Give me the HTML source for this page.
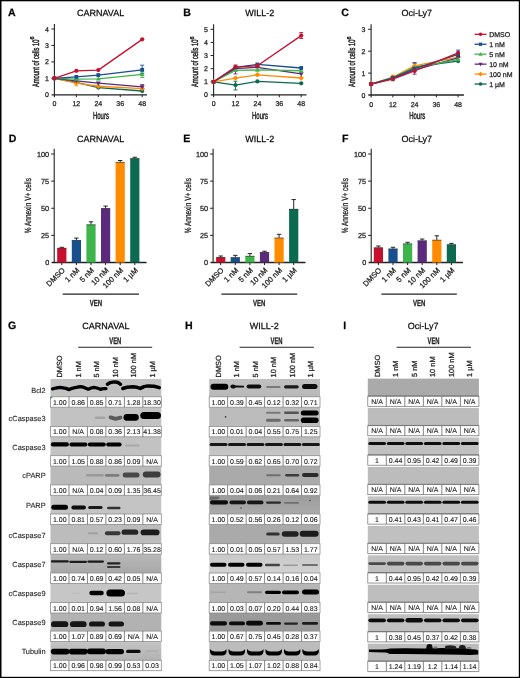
<!DOCTYPE html>
<html><head><meta charset="utf-8"><title>Figure</title>
<style>html,body{margin:0;padding:0;background:#fff;}body{width:520px;height:678px;overflow:hidden;font-family:"Liberation Sans",sans-serif;}svg{display:block;will-change:transform;}text{stroke:#222;stroke-width:0.25px;}</style>
</head><body>
<svg xmlns="http://www.w3.org/2000/svg" width="520" height="678" viewBox="0 0 520 678" font-family="Liberation Sans, sans-serif" text-rendering="geometricPrecision">
<defs><filter id="blur" x="-5%" y="-50%" width="110%" height="200%"><feGaussianBlur stdDeviation="0.72"/></filter></defs>
<rect x="0" y="0" width="520" height="678" fill="#fff"/>
<rect x="0" y="0" width="520" height="1.3" fill="#000"/>
<rect x="0" y="676.8" width="520" height="1.2" fill="#000"/>
<rect x="0" y="0" width="1.5" height="678" fill="#000"/>
<rect x="518.8" y="0" width="1.2" height="678" fill="#000"/>
<text x="8" y="15.8" font-size="10.6" text-anchor="start" font-weight="bold" fill="#000">A</text>
<text x="183.3" y="15.7" font-size="10.6" text-anchor="start" font-weight="bold" fill="#000">B</text>
<text x="341.3" y="15.7" font-size="10.6" text-anchor="start" font-weight="bold" fill="#000">C</text>
<text x="8.7" y="141.7" font-size="10.6" text-anchor="start" font-weight="bold" fill="#000">D</text>
<text x="183.3" y="141.8" font-size="10.6" text-anchor="start" font-weight="bold" fill="#000">E</text>
<text x="342" y="141.8" font-size="10.6" text-anchor="start" font-weight="bold" fill="#000">F</text>
<text x="8" y="329.4" font-size="10.6" text-anchor="start" font-weight="bold" fill="#000">G</text>
<text x="184.9" y="329.3" font-size="10.6" text-anchor="start" font-weight="bold" fill="#000">H</text>
<text x="343.2" y="329.3" font-size="10.6" text-anchor="start" font-weight="bold" fill="#000">I</text>
<text x="100.6" y="16" font-size="9.0" text-anchor="middle">CARNAVAL</text>
<text x="259.7" y="16" font-size="9.0" text-anchor="middle">WILL-2</text>
<text x="416.8" y="16" font-size="9.0" text-anchor="middle">Oci-Ly7</text>
<text x="100.6" y="141.6" font-size="9.0" text-anchor="middle">CARNAVAL</text>
<text x="259.7" y="141.8" font-size="9.0" text-anchor="middle">WILL-2</text>
<text x="416.8" y="141.8" font-size="9.0" text-anchor="middle">Oci-Ly7</text>
<text x="105.9" y="329" font-size="9.0" text-anchor="middle">CARNAVAL</text>
<text x="264.3" y="329" font-size="9.0" text-anchor="middle">WILL-2</text>
<text x="423.2" y="329" font-size="9.0" text-anchor="middle">Oci-Ly7</text>
<line x1="54.4" y1="24" x2="54.4" y2="97.2" stroke="#222" stroke-width="1.1"/>
<line x1="51.6" y1="94.8" x2="147" y2="94.8" stroke="#222" stroke-width="1.3"/>
<text x="48.8" y="97.3" font-size="7" text-anchor="end" fill="#222">0</text>
<line x1="51.4" y1="78.35" x2="54.4" y2="78.35" stroke="#222" stroke-width="1"/>
<text x="48.8" y="80.85" font-size="7" text-anchor="end" fill="#222">1</text>
<line x1="51.4" y1="61.9" x2="54.4" y2="61.9" stroke="#222" stroke-width="1"/>
<text x="48.8" y="64.4" font-size="7" text-anchor="end" fill="#222">2</text>
<line x1="51.4" y1="45.45" x2="54.4" y2="45.45" stroke="#222" stroke-width="1"/>
<text x="48.8" y="47.95" font-size="7" text-anchor="end" fill="#222">3</text>
<line x1="51.4" y1="29" x2="54.4" y2="29" stroke="#222" stroke-width="1"/>
<text x="48.8" y="31.5" font-size="7" text-anchor="end" fill="#222">4</text>
<text x="54.4" y="106.3" font-size="7" text-anchor="middle" fill="#222">0</text>
<line x1="76.35" y1="94.8" x2="76.35" y2="97.2" stroke="#222" stroke-width="1"/>
<text x="76.35" y="106.3" font-size="7" text-anchor="middle" fill="#222">12</text>
<line x1="98.3" y1="94.8" x2="98.3" y2="97.2" stroke="#222" stroke-width="1"/>
<text x="98.3" y="106.3" font-size="7" text-anchor="middle" fill="#222">24</text>
<line x1="120.25" y1="94.8" x2="120.25" y2="97.2" stroke="#222" stroke-width="1"/>
<text x="120.25" y="106.3" font-size="7" text-anchor="middle" fill="#222">36</text>
<line x1="142.2" y1="94.8" x2="142.2" y2="97.2" stroke="#222" stroke-width="1"/>
<text x="142.2" y="106.3" font-size="7" text-anchor="middle" fill="#222">48</text>
<text x="100.9" y="118.8" font-size="10.2" text-anchor="middle" fill="#222" textLength="16" lengthAdjust="spacingAndGlyphs" style="stroke-width:0.45px">Hours</text>
<text transform="translate(38.6 87.1) rotate(-90)" font-size="9.4" text-anchor="start" fill="#1a1a1a" style="stroke-width:0.42px;stroke:#1a1a1a"><tspan textLength="47.6" lengthAdjust="spacingAndGlyphs">Amount of cells 10</tspan><tspan dy="-4.2" font-size="5.6">6</tspan></text>
<polyline points="54.4,78.35 76.35,82.3 98.3,87.56 142.2,91.02" fill="none" stroke="#0b6a50" stroke-width="1.3" stroke-linejoin="round"/>
<polyline points="54.4,78.35 76.35,83.12 98.3,86.25 142.2,88.55" fill="none" stroke="#ff8c00" stroke-width="1.3" stroke-linejoin="round"/>
<polyline points="54.4,78.35 76.35,80.82 98.3,83.12 142.2,86.9" fill="none" stroke="#5b2a7c" stroke-width="1.3" stroke-linejoin="round"/>
<polyline points="54.4,78.35 76.35,79.17 98.3,78.84 142.2,74.4" fill="none" stroke="#3db54a" stroke-width="1.3" stroke-linejoin="round"/>
<polyline points="54.4,78.35 76.35,76.87 98.3,75.06 142.2,69.8" fill="none" stroke="#17508c" stroke-width="1.3" stroke-linejoin="round"/>
<polyline points="54.4,78.35 76.35,70.78 98.3,70.12 142.2,39.36" fill="none" stroke="#c8102e" stroke-width="1.3" stroke-linejoin="round"/>
<line x1="142.2" y1="73.41" x2="142.2" y2="65.19" stroke="#17508c" stroke-width="0.9"/>
<line x1="140.2" y1="73.41" x2="144.2" y2="73.41" stroke="#17508c" stroke-width="0.9"/>
<line x1="140.2" y1="65.19" x2="144.2" y2="65.19" stroke="#17508c" stroke-width="0.9"/>
<line x1="142.2" y1="77.53" x2="142.2" y2="71.77" stroke="#3db54a" stroke-width="0.9"/>
<line x1="140.2" y1="77.53" x2="144.2" y2="77.53" stroke="#3db54a" stroke-width="0.9"/>
<line x1="140.2" y1="71.77" x2="144.2" y2="71.77" stroke="#3db54a" stroke-width="0.9"/>
<line x1="142.2" y1="89.04" x2="142.2" y2="84.6" stroke="#5b2a7c" stroke-width="0.9"/>
<line x1="140.2" y1="89.04" x2="144.2" y2="89.04" stroke="#5b2a7c" stroke-width="0.9"/>
<line x1="140.2" y1="84.6" x2="144.2" y2="84.6" stroke="#5b2a7c" stroke-width="0.9"/>
<line x1="76.35" y1="85.75" x2="76.35" y2="80.82" stroke="#ff8c00" stroke-width="0.9"/>
<line x1="74.35" y1="85.75" x2="78.35" y2="85.75" stroke="#ff8c00" stroke-width="0.9"/>
<line x1="74.35" y1="80.82" x2="78.35" y2="80.82" stroke="#ff8c00" stroke-width="0.9"/>
<circle cx="54.4" cy="78.35" r="2.1" fill="#0b6a50"/>
<circle cx="76.35" cy="82.3" r="2.1" fill="#0b6a50"/>
<circle cx="98.3" cy="87.56" r="2.1" fill="#0b6a50"/>
<circle cx="142.2" cy="91.02" r="2.1" fill="#0b6a50"/>
<path d="M54.4 75.62L57.13 78.35L54.4 81.08L51.67 78.35Z" fill="#ff8c00"/>
<path d="M76.35 80.39L79.08 83.12L76.35 85.85L73.62 83.12Z" fill="#ff8c00"/>
<path d="M98.3 83.52L101.03 86.25L98.3 88.98L95.57 86.25Z" fill="#ff8c00"/>
<path d="M142.2 85.82L144.93 88.55L142.2 91.28L139.47 88.55Z" fill="#ff8c00"/>
<path d="M54.4 80.87L56.81 76.67L51.98 76.67Z" fill="#5b2a7c"/>
<path d="M76.35 83.34L78.77 79.14L73.93 79.14Z" fill="#5b2a7c"/>
<path d="M98.3 85.64L100.72 81.44L95.88 81.44Z" fill="#5b2a7c"/>
<path d="M142.2 89.42L144.61 85.22L139.78 85.22Z" fill="#5b2a7c"/>
<path d="M54.4 75.83L56.81 80.03L51.98 80.03Z" fill="#3db54a"/>
<path d="M76.35 76.65L78.77 80.85L73.93 80.85Z" fill="#3db54a"/>
<path d="M98.3 76.32L100.72 80.52L95.88 80.52Z" fill="#3db54a"/>
<path d="M142.2 71.88L144.61 76.08L139.78 76.08Z" fill="#3db54a"/>
<rect x="52.51" y="76.46" width="3.78" height="3.78" fill="#17508c"/>
<rect x="74.46" y="74.98" width="3.78" height="3.78" fill="#17508c"/>
<rect x="96.41" y="73.17" width="3.78" height="3.78" fill="#17508c"/>
<rect x="140.31" y="67.91" width="3.78" height="3.78" fill="#17508c"/>
<circle cx="54.4" cy="78.35" r="2.1" fill="#c8102e"/>
<circle cx="76.35" cy="70.78" r="2.1" fill="#c8102e"/>
<circle cx="98.3" cy="70.12" r="2.1" fill="#c8102e"/>
<circle cx="142.2" cy="39.36" r="2.1" fill="#c8102e"/>
<line x1="213.6" y1="24.2" x2="213.6" y2="97.3" stroke="#222" stroke-width="1.1"/>
<line x1="210.8" y1="94.9" x2="306.5" y2="94.9" stroke="#222" stroke-width="1.3"/>
<text x="208" y="97.4" font-size="7" text-anchor="end" fill="#222">0</text>
<line x1="210.6" y1="81.78" x2="213.6" y2="81.78" stroke="#222" stroke-width="1"/>
<text x="208" y="84.28" font-size="7" text-anchor="end" fill="#222">1</text>
<line x1="210.6" y1="68.66" x2="213.6" y2="68.66" stroke="#222" stroke-width="1"/>
<text x="208" y="71.16" font-size="7" text-anchor="end" fill="#222">2</text>
<line x1="210.6" y1="55.54" x2="213.6" y2="55.54" stroke="#222" stroke-width="1"/>
<text x="208" y="58.04" font-size="7" text-anchor="end" fill="#222">3</text>
<line x1="210.6" y1="42.42" x2="213.6" y2="42.42" stroke="#222" stroke-width="1"/>
<text x="208" y="44.92" font-size="7" text-anchor="end" fill="#222">4</text>
<line x1="210.6" y1="29.3" x2="213.6" y2="29.3" stroke="#222" stroke-width="1"/>
<text x="208" y="31.8" font-size="7" text-anchor="end" fill="#222">5</text>
<text x="213.6" y="106.4" font-size="7" text-anchor="middle" fill="#222">0</text>
<line x1="235.5" y1="94.9" x2="235.5" y2="97.3" stroke="#222" stroke-width="1"/>
<text x="235.5" y="106.4" font-size="7" text-anchor="middle" fill="#222">12</text>
<line x1="257.4" y1="94.9" x2="257.4" y2="97.3" stroke="#222" stroke-width="1"/>
<text x="257.4" y="106.4" font-size="7" text-anchor="middle" fill="#222">24</text>
<line x1="279.3" y1="94.9" x2="279.3" y2="97.3" stroke="#222" stroke-width="1"/>
<text x="279.3" y="106.4" font-size="7" text-anchor="middle" fill="#222">36</text>
<line x1="301.2" y1="94.9" x2="301.2" y2="97.3" stroke="#222" stroke-width="1"/>
<text x="301.2" y="106.4" font-size="7" text-anchor="middle" fill="#222">48</text>
<text x="260" y="118.9" font-size="10.2" text-anchor="middle" fill="#222" textLength="16" lengthAdjust="spacingAndGlyphs" style="stroke-width:0.45px">Hours</text>
<text transform="translate(198 87.1) rotate(-90)" font-size="9.4" text-anchor="start" fill="#1a1a1a" style="stroke-width:0.42px;stroke:#1a1a1a"><tspan textLength="47.6" lengthAdjust="spacingAndGlyphs">Amount of cells 10</tspan><tspan dy="-4.2" font-size="5.6">6</tspan></text>
<polyline points="213.6,81.78 235.5,85.06 257.4,81.39 301.2,83.35" fill="none" stroke="#0b6a50" stroke-width="1.3" stroke-linejoin="round"/>
<polyline points="213.6,81.78 235.5,78.11 257.4,74.83 301.2,77.98" fill="none" stroke="#ff8c00" stroke-width="1.3" stroke-linejoin="round"/>
<polyline points="213.6,81.78 235.5,68.66 257.4,67.35 301.2,73.91" fill="none" stroke="#5b2a7c" stroke-width="1.3" stroke-linejoin="round"/>
<polyline points="213.6,81.78 235.5,70.37 257.4,69.97 301.2,70.76" fill="none" stroke="#3db54a" stroke-width="1.3" stroke-linejoin="round"/>
<polyline points="213.6,81.78 235.5,67.35 257.4,64.46 301.2,68" fill="none" stroke="#17508c" stroke-width="1.3" stroke-linejoin="round"/>
<polyline points="213.6,81.78 235.5,67.09 257.4,65.77 301.2,35.6" fill="none" stroke="#c8102e" stroke-width="1.3" stroke-linejoin="round"/>
<line x1="301.2" y1="38.48" x2="301.2" y2="32.58" stroke="#c8102e" stroke-width="0.9"/>
<line x1="299.2" y1="38.48" x2="303.2" y2="38.48" stroke="#c8102e" stroke-width="0.9"/>
<line x1="299.2" y1="32.58" x2="303.2" y2="32.58" stroke="#c8102e" stroke-width="0.9"/>
<line x1="235.5" y1="68.66" x2="235.5" y2="64.99" stroke="#c8102e" stroke-width="0.9"/>
<line x1="233.5" y1="68.66" x2="237.5" y2="68.66" stroke="#c8102e" stroke-width="0.9"/>
<line x1="233.5" y1="64.99" x2="237.5" y2="64.99" stroke="#c8102e" stroke-width="0.9"/>
<line x1="235.5" y1="73.91" x2="235.5" y2="67.35" stroke="#5b2a7c" stroke-width="0.9"/>
<line x1="233.5" y1="73.91" x2="237.5" y2="73.91" stroke="#5b2a7c" stroke-width="0.9"/>
<line x1="233.5" y1="67.35" x2="237.5" y2="67.35" stroke="#5b2a7c" stroke-width="0.9"/>
<line x1="235.5" y1="89.91" x2="235.5" y2="81.26" stroke="#0b6a50" stroke-width="0.9"/>
<line x1="233.5" y1="89.91" x2="237.5" y2="89.91" stroke="#0b6a50" stroke-width="0.9"/>
<line x1="233.5" y1="81.26" x2="237.5" y2="81.26" stroke="#0b6a50" stroke-width="0.9"/>
<line x1="257.4" y1="67.35" x2="257.4" y2="64.07" stroke="#c8102e" stroke-width="0.9"/>
<line x1="255.4" y1="67.35" x2="259.4" y2="67.35" stroke="#c8102e" stroke-width="0.9"/>
<line x1="255.4" y1="64.07" x2="259.4" y2="64.07" stroke="#c8102e" stroke-width="0.9"/>
<circle cx="213.6" cy="81.78" r="2.1" fill="#0b6a50"/>
<circle cx="235.5" cy="85.06" r="2.1" fill="#0b6a50"/>
<circle cx="257.4" cy="81.39" r="2.1" fill="#0b6a50"/>
<circle cx="301.2" cy="83.35" r="2.1" fill="#0b6a50"/>
<path d="M213.6 79.05L216.33 81.78L213.6 84.51L210.87 81.78Z" fill="#ff8c00"/>
<path d="M235.5 75.38L238.23 78.11L235.5 80.84L232.77 78.11Z" fill="#ff8c00"/>
<path d="M257.4 72.1L260.13 74.83L257.4 77.56L254.67 74.83Z" fill="#ff8c00"/>
<path d="M301.2 75.25L303.93 77.98L301.2 80.71L298.47 77.98Z" fill="#ff8c00"/>
<path d="M213.6 84.3L216.01 80.1L211.19 80.1Z" fill="#5b2a7c"/>
<path d="M235.5 71.18L237.91 66.98L233.09 66.98Z" fill="#5b2a7c"/>
<path d="M257.4 69.87L259.81 65.67L254.98 65.67Z" fill="#5b2a7c"/>
<path d="M301.2 76.43L303.62 72.23L298.78 72.23Z" fill="#5b2a7c"/>
<path d="M213.6 79.26L216.01 83.46L211.19 83.46Z" fill="#3db54a"/>
<path d="M235.5 67.85L237.91 72.05L233.09 72.05Z" fill="#3db54a"/>
<path d="M257.4 67.45L259.81 71.65L254.98 71.65Z" fill="#3db54a"/>
<path d="M301.2 68.24L303.62 72.44L298.78 72.44Z" fill="#3db54a"/>
<rect x="211.71" y="79.89" width="3.78" height="3.78" fill="#17508c"/>
<rect x="233.61" y="65.46" width="3.78" height="3.78" fill="#17508c"/>
<rect x="255.51" y="62.57" width="3.78" height="3.78" fill="#17508c"/>
<rect x="299.31" y="66.11" width="3.78" height="3.78" fill="#17508c"/>
<circle cx="213.6" cy="81.78" r="2.1" fill="#c8102e"/>
<circle cx="235.5" cy="67.09" r="2.1" fill="#c8102e"/>
<circle cx="257.4" cy="65.77" r="2.1" fill="#c8102e"/>
<circle cx="301.2" cy="35.6" r="2.1" fill="#c8102e"/>
<line x1="371.1" y1="24.2" x2="371.1" y2="97.4" stroke="#222" stroke-width="1.1"/>
<line x1="368.3" y1="95" x2="463.9" y2="95" stroke="#222" stroke-width="1.3"/>
<text x="365.5" y="97.5" font-size="7" text-anchor="end" fill="#222">0</text>
<line x1="368.1" y1="73.1" x2="371.1" y2="73.1" stroke="#222" stroke-width="1"/>
<text x="365.5" y="75.6" font-size="7" text-anchor="end" fill="#222">1</text>
<line x1="368.1" y1="51.2" x2="371.1" y2="51.2" stroke="#222" stroke-width="1"/>
<text x="365.5" y="53.7" font-size="7" text-anchor="end" fill="#222">2</text>
<line x1="368.1" y1="29.3" x2="371.1" y2="29.3" stroke="#222" stroke-width="1"/>
<text x="365.5" y="31.8" font-size="7" text-anchor="end" fill="#222">3</text>
<text x="371.1" y="106.5" font-size="7" text-anchor="middle" fill="#222">0</text>
<line x1="392.85" y1="95" x2="392.85" y2="97.4" stroke="#222" stroke-width="1"/>
<text x="392.85" y="106.5" font-size="7" text-anchor="middle" fill="#222">12</text>
<line x1="414.6" y1="95" x2="414.6" y2="97.4" stroke="#222" stroke-width="1"/>
<text x="414.6" y="106.5" font-size="7" text-anchor="middle" fill="#222">24</text>
<line x1="436.35" y1="95" x2="436.35" y2="97.4" stroke="#222" stroke-width="1"/>
<text x="436.35" y="106.5" font-size="7" text-anchor="middle" fill="#222">36</text>
<line x1="458.1" y1="95" x2="458.1" y2="97.4" stroke="#222" stroke-width="1"/>
<text x="458.1" y="106.5" font-size="7" text-anchor="middle" fill="#222">48</text>
<text x="417.2" y="119" font-size="10.2" text-anchor="middle" fill="#222" textLength="16" lengthAdjust="spacingAndGlyphs" style="stroke-width:0.45px">Hours</text>
<text transform="translate(355 87.1) rotate(-90)" font-size="9.4" text-anchor="start" fill="#1a1a1a" style="stroke-width:0.42px;stroke:#1a1a1a"><tspan textLength="47.6" lengthAdjust="spacingAndGlyphs">Amount of cells 10</tspan><tspan dy="-4.2" font-size="5.6">6</tspan></text>
<polyline points="371.1,84.05 392.85,77.92 414.6,66.97 458.1,61.05" fill="none" stroke="#0b6a50" stroke-width="1.3" stroke-linejoin="round"/>
<polyline points="371.1,84.05 392.85,77.04 414.6,65.87 458.1,57.11" fill="none" stroke="#ff8c00" stroke-width="1.3" stroke-linejoin="round"/>
<polyline points="371.1,84.05 392.85,78.36 414.6,69.81 458.1,57.77" fill="none" stroke="#5b2a7c" stroke-width="1.3" stroke-linejoin="round"/>
<polyline points="371.1,84.05 392.85,77.48 414.6,67.62 458.1,59.52" fill="none" stroke="#3db54a" stroke-width="1.3" stroke-linejoin="round"/>
<polyline points="371.1,84.05 392.85,77.92 414.6,68.72 458.1,54.48" fill="none" stroke="#17508c" stroke-width="1.3" stroke-linejoin="round"/>
<polyline points="371.1,84.05 392.85,79.23 414.6,70.91 458.1,52.95" fill="none" stroke="#c8102e" stroke-width="1.3" stroke-linejoin="round"/>
<line x1="458.1" y1="56.02" x2="458.1" y2="50.11" stroke="#17508c" stroke-width="0.9"/>
<line x1="456.1" y1="56.02" x2="460.1" y2="56.02" stroke="#17508c" stroke-width="0.9"/>
<line x1="456.1" y1="50.11" x2="460.1" y2="50.11" stroke="#17508c" stroke-width="0.9"/>
<line x1="414.6" y1="74.2" x2="414.6" y2="63.25" stroke="#5b2a7c" stroke-width="0.9"/>
<line x1="412.6" y1="74.2" x2="416.6" y2="74.2" stroke="#5b2a7c" stroke-width="0.9"/>
<line x1="412.6" y1="63.25" x2="416.6" y2="63.25" stroke="#5b2a7c" stroke-width="0.9"/>
<line x1="414.6" y1="70.91" x2="414.6" y2="62.59" stroke="#17508c" stroke-width="0.9"/>
<line x1="412.6" y1="70.91" x2="416.6" y2="70.91" stroke="#17508c" stroke-width="0.9"/>
<line x1="412.6" y1="62.59" x2="416.6" y2="62.59" stroke="#17508c" stroke-width="0.9"/>
<line x1="392.85" y1="80.77" x2="392.85" y2="76.39" stroke="#3db54a" stroke-width="0.9"/>
<line x1="390.85" y1="80.77" x2="394.85" y2="80.77" stroke="#3db54a" stroke-width="0.9"/>
<line x1="390.85" y1="76.39" x2="394.85" y2="76.39" stroke="#3db54a" stroke-width="0.9"/>
<line x1="392.85" y1="78.58" x2="392.85" y2="75.29" stroke="#ff8c00" stroke-width="0.9"/>
<line x1="390.85" y1="78.58" x2="394.85" y2="78.58" stroke="#ff8c00" stroke-width="0.9"/>
<line x1="390.85" y1="75.29" x2="394.85" y2="75.29" stroke="#ff8c00" stroke-width="0.9"/>
<circle cx="371.1" cy="84.05" r="2.1" fill="#0b6a50"/>
<circle cx="392.85" cy="77.92" r="2.1" fill="#0b6a50"/>
<circle cx="414.6" cy="66.97" r="2.1" fill="#0b6a50"/>
<circle cx="458.1" cy="61.05" r="2.1" fill="#0b6a50"/>
<path d="M371.1 81.32L373.83 84.05L371.1 86.78L368.37 84.05Z" fill="#ff8c00"/>
<path d="M392.85 74.31L395.58 77.04L392.85 79.77L390.12 77.04Z" fill="#ff8c00"/>
<path d="M414.6 63.14L417.33 65.87L414.6 68.6L411.87 65.87Z" fill="#ff8c00"/>
<path d="M458.1 54.38L460.83 57.11L458.1 59.84L455.37 57.11Z" fill="#ff8c00"/>
<path d="M371.1 86.57L373.52 82.37L368.69 82.37Z" fill="#5b2a7c"/>
<path d="M392.85 80.88L395.27 76.68L390.44 76.68Z" fill="#5b2a7c"/>
<path d="M414.6 72.33L417.02 68.13L412.19 68.13Z" fill="#5b2a7c"/>
<path d="M458.1 60.29L460.52 56.09L455.69 56.09Z" fill="#5b2a7c"/>
<path d="M371.1 81.53L373.52 85.73L368.69 85.73Z" fill="#3db54a"/>
<path d="M392.85 74.96L395.27 79.16L390.44 79.16Z" fill="#3db54a"/>
<path d="M414.6 65.11L417.02 69.31L412.19 69.31Z" fill="#3db54a"/>
<path d="M458.1 57L460.52 61.2L455.69 61.2Z" fill="#3db54a"/>
<rect x="369.21" y="82.16" width="3.78" height="3.78" fill="#17508c"/>
<rect x="390.96" y="76.03" width="3.78" height="3.78" fill="#17508c"/>
<rect x="412.71" y="66.83" width="3.78" height="3.78" fill="#17508c"/>
<rect x="456.21" y="52.59" width="3.78" height="3.78" fill="#17508c"/>
<circle cx="371.1" cy="84.05" r="2.1" fill="#c8102e"/>
<circle cx="392.85" cy="79.23" r="2.1" fill="#c8102e"/>
<circle cx="414.6" cy="70.91" r="2.1" fill="#c8102e"/>
<circle cx="458.1" cy="52.95" r="2.1" fill="#c8102e"/>
<line x1="474.6" y1="34.3" x2="486.5" y2="34.3" stroke="#c8102e" stroke-width="1.3"/>
<circle cx="480.55" cy="34.3" r="1.8" fill="#c8102e"/>
<text x="489.2" y="36.8" font-size="7" text-anchor="start" fill="#222">DMSO</text>
<line x1="474.6" y1="44.25" x2="486.5" y2="44.25" stroke="#17508c" stroke-width="1.3"/>
<rect x="478.93" y="42.63" width="3.24" height="3.24" fill="#17508c"/>
<text x="489.2" y="46.75" font-size="7" text-anchor="start" fill="#222">1 nM</text>
<line x1="474.6" y1="54.2" x2="486.5" y2="54.2" stroke="#3db54a" stroke-width="1.3"/>
<path d="M480.55 52.04L482.62 55.64L478.48 55.64Z" fill="#3db54a"/>
<text x="489.2" y="56.7" font-size="7" text-anchor="start" fill="#222">5 nM</text>
<line x1="474.6" y1="64.15" x2="486.5" y2="64.15" stroke="#5b2a7c" stroke-width="1.3"/>
<path d="M480.55 66.31L482.62 62.71L478.48 62.71Z" fill="#5b2a7c"/>
<text x="489.2" y="66.65" font-size="7" text-anchor="start" fill="#222">10 nM</text>
<line x1="474.6" y1="74.1" x2="486.5" y2="74.1" stroke="#ff8c00" stroke-width="1.3"/>
<path d="M480.55 71.76L482.89 74.1L480.55 76.44L478.21 74.1Z" fill="#ff8c00"/>
<text x="489.2" y="76.6" font-size="7" text-anchor="start" fill="#222">100 nM</text>
<line x1="474.6" y1="84.05" x2="486.5" y2="84.05" stroke="#0b6a50" stroke-width="1.3"/>
<circle cx="480.55" cy="84.05" r="1.8" fill="#0b6a50"/>
<text x="489.2" y="86.55" font-size="7" text-anchor="start" fill="#222">1 µM</text>
<line x1="54.2" y1="148.8" x2="54.2" y2="263.1" stroke="#222" stroke-width="1.1"/>
<line x1="51.6" y1="262.5" x2="146.5" y2="262.5" stroke="#222" stroke-width="1.3"/>
<text x="49.2" y="265.1" font-size="7.3" text-anchor="end" fill="#222">0</text>
<line x1="51.2" y1="235.38" x2="54.2" y2="235.38" stroke="#222" stroke-width="1"/>
<text x="49.2" y="237.97" font-size="7.3" text-anchor="end" fill="#222">25</text>
<line x1="51.2" y1="208.25" x2="54.2" y2="208.25" stroke="#222" stroke-width="1"/>
<text x="49.2" y="210.85" font-size="7.3" text-anchor="end" fill="#222">50</text>
<line x1="51.2" y1="181.12" x2="54.2" y2="181.12" stroke="#222" stroke-width="1"/>
<text x="49.2" y="183.72" font-size="7.3" text-anchor="end" fill="#222">75</text>
<line x1="51.2" y1="154" x2="54.2" y2="154" stroke="#222" stroke-width="1"/>
<text x="49.2" y="156.6" font-size="7.3" text-anchor="end" fill="#222">100</text>
<rect x="57.2" y="247.96" width="9.2" height="14.54" fill="#c8102e"/>
<line x1="61.8" y1="247.96" x2="61.8" y2="247.31" stroke="#111" stroke-width="0.9"/>
<line x1="59.6" y1="247.31" x2="64" y2="247.31" stroke="#111" stroke-width="0.9"/>
<line x1="57.2" y1="248.26" x2="66.4" y2="248.26" stroke="#333" stroke-width="0.6"/>
<line x1="61.8" y1="262.5" x2="61.8" y2="265.1" stroke="#222" stroke-width="1"/>
<text x="65.4" y="270.8" font-size="7.6" text-anchor="end" fill="#222" transform="rotate(-45 65.4 270.8)">DMSO</text>
<rect x="71.8" y="240.15" width="9.2" height="22.35" fill="#17508c"/>
<line x1="76.4" y1="240.15" x2="76.4" y2="238.09" stroke="#111" stroke-width="0.9"/>
<line x1="74.2" y1="238.09" x2="78.6" y2="238.09" stroke="#111" stroke-width="0.9"/>
<line x1="71.8" y1="240.45" x2="81" y2="240.45" stroke="#333" stroke-width="0.6"/>
<line x1="76.4" y1="262.5" x2="76.4" y2="265.1" stroke="#222" stroke-width="1"/>
<text x="80" y="270.8" font-size="7.6" text-anchor="end" fill="#222" transform="rotate(-45 80 270.8)">1 nM</text>
<rect x="86.4" y="224.53" width="9.2" height="37.97" fill="#3db54a"/>
<line x1="91" y1="224.53" x2="91" y2="221.81" stroke="#111" stroke-width="0.9"/>
<line x1="88.8" y1="221.81" x2="93.2" y2="221.81" stroke="#111" stroke-width="0.9"/>
<line x1="86.4" y1="224.83" x2="95.6" y2="224.83" stroke="#333" stroke-width="0.6"/>
<line x1="91" y1="262.5" x2="91" y2="265.1" stroke="#222" stroke-width="1"/>
<text x="94.6" y="270.8" font-size="7.6" text-anchor="end" fill="#222" transform="rotate(-45 94.6 270.8)">5 nM</text>
<rect x="101" y="208.25" width="9.2" height="54.25" fill="#5b2a7c"/>
<line x1="105.6" y1="208.25" x2="105.6" y2="206.08" stroke="#111" stroke-width="0.9"/>
<line x1="103.4" y1="206.08" x2="107.8" y2="206.08" stroke="#111" stroke-width="0.9"/>
<line x1="101" y1="208.55" x2="110.2" y2="208.55" stroke="#333" stroke-width="0.6"/>
<line x1="105.6" y1="262.5" x2="105.6" y2="265.1" stroke="#222" stroke-width="1"/>
<text x="109.2" y="270.8" font-size="7.6" text-anchor="end" fill="#222" transform="rotate(-45 109.2 270.8)">10 nM</text>
<rect x="115.6" y="162.14" width="9.2" height="100.36" fill="#ff8c00"/>
<line x1="120.2" y1="162.14" x2="120.2" y2="160.51" stroke="#111" stroke-width="0.9"/>
<line x1="118" y1="160.51" x2="122.4" y2="160.51" stroke="#111" stroke-width="0.9"/>
<line x1="115.6" y1="162.44" x2="124.8" y2="162.44" stroke="#333" stroke-width="0.6"/>
<line x1="120.2" y1="262.5" x2="120.2" y2="265.1" stroke="#222" stroke-width="1"/>
<text x="123.8" y="270.8" font-size="7.6" text-anchor="end" fill="#222" transform="rotate(-45 123.8 270.8)">100 nM</text>
<rect x="130.2" y="158.34" width="9.2" height="104.16" fill="#0b6a50"/>
<line x1="134.8" y1="158.34" x2="134.8" y2="157.25" stroke="#111" stroke-width="0.9"/>
<line x1="132.6" y1="157.25" x2="137" y2="157.25" stroke="#111" stroke-width="0.9"/>
<line x1="130.2" y1="158.64" x2="139.4" y2="158.64" stroke="#333" stroke-width="0.6"/>
<line x1="134.8" y1="262.5" x2="134.8" y2="265.1" stroke="#222" stroke-width="1"/>
<text x="138.4" y="270.8" font-size="7.6" text-anchor="end" fill="#222" transform="rotate(-45 138.4 270.8)">1 µM</text>
<text transform="translate(30.9 205.6) rotate(-90)" font-size="9.0" text-anchor="middle" fill="#222" style="stroke-width:0.28px" textLength="55.2" lengthAdjust="spacingAndGlyphs">% Annexin V+ cells</text>
<line x1="62.7" y1="294.1" x2="139" y2="294.1" stroke="#222" stroke-width="1.1"/>
<text x="95.9" y="305.6" font-size="8.8" text-anchor="middle" font-weight="bold" fill="#222" textLength="12.4" lengthAdjust="spacingAndGlyphs">VEN</text>
<line x1="213.1" y1="148.8" x2="213.1" y2="263.1" stroke="#222" stroke-width="1.1"/>
<line x1="210.5" y1="262.5" x2="305.5" y2="262.5" stroke="#222" stroke-width="1.3"/>
<text x="208.1" y="265.1" font-size="7.3" text-anchor="end" fill="#222">0</text>
<line x1="210.1" y1="235.38" x2="213.1" y2="235.38" stroke="#222" stroke-width="1"/>
<text x="208.1" y="237.97" font-size="7.3" text-anchor="end" fill="#222">25</text>
<line x1="210.1" y1="208.25" x2="213.1" y2="208.25" stroke="#222" stroke-width="1"/>
<text x="208.1" y="210.85" font-size="7.3" text-anchor="end" fill="#222">50</text>
<line x1="210.1" y1="181.12" x2="213.1" y2="181.12" stroke="#222" stroke-width="1"/>
<text x="208.1" y="183.72" font-size="7.3" text-anchor="end" fill="#222">75</text>
<line x1="210.1" y1="154" x2="213.1" y2="154" stroke="#222" stroke-width="1"/>
<text x="208.1" y="156.6" font-size="7.3" text-anchor="end" fill="#222">100</text>
<rect x="216.1" y="257.18" width="9.2" height="5.32" fill="#c8102e"/>
<line x1="220.7" y1="257.18" x2="220.7" y2="255.99" stroke="#111" stroke-width="0.9"/>
<line x1="218.5" y1="255.99" x2="222.9" y2="255.99" stroke="#111" stroke-width="0.9"/>
<line x1="216.1" y1="257.48" x2="225.3" y2="257.48" stroke="#333" stroke-width="0.6"/>
<line x1="220.7" y1="262.5" x2="220.7" y2="265.1" stroke="#222" stroke-width="1"/>
<text x="224.3" y="270.8" font-size="7.6" text-anchor="end" fill="#222" transform="rotate(-45 224.3 270.8)">DMSO</text>
<rect x="230.7" y="257.4" width="9.2" height="5.1" fill="#17508c"/>
<line x1="235.3" y1="257.4" x2="235.3" y2="255.34" stroke="#111" stroke-width="0.9"/>
<line x1="233.1" y1="255.34" x2="237.5" y2="255.34" stroke="#111" stroke-width="0.9"/>
<line x1="230.7" y1="257.7" x2="239.9" y2="257.7" stroke="#333" stroke-width="0.6"/>
<line x1="235.3" y1="262.5" x2="235.3" y2="265.1" stroke="#222" stroke-width="1"/>
<text x="238.9" y="270.8" font-size="7.6" text-anchor="end" fill="#222" transform="rotate(-45 238.9 270.8)">1 nM</text>
<rect x="245.3" y="255.99" width="9.2" height="6.51" fill="#3db54a"/>
<line x1="249.9" y1="255.99" x2="249.9" y2="253.6" stroke="#111" stroke-width="0.9"/>
<line x1="247.7" y1="253.6" x2="252.1" y2="253.6" stroke="#111" stroke-width="0.9"/>
<line x1="245.3" y1="256.29" x2="254.5" y2="256.29" stroke="#333" stroke-width="0.6"/>
<line x1="249.9" y1="262.5" x2="249.9" y2="265.1" stroke="#222" stroke-width="1"/>
<text x="253.5" y="270.8" font-size="7.6" text-anchor="end" fill="#222" transform="rotate(-45 253.5 270.8)">5 nM</text>
<rect x="259.9" y="252.19" width="9.2" height="10.31" fill="#5b2a7c"/>
<line x1="264.5" y1="252.19" x2="264.5" y2="251.22" stroke="#111" stroke-width="0.9"/>
<line x1="262.3" y1="251.22" x2="266.7" y2="251.22" stroke="#111" stroke-width="0.9"/>
<line x1="259.9" y1="252.49" x2="269.1" y2="252.49" stroke="#333" stroke-width="0.6"/>
<line x1="264.5" y1="262.5" x2="264.5" y2="265.1" stroke="#222" stroke-width="1"/>
<text x="268.1" y="270.8" font-size="7.6" text-anchor="end" fill="#222" transform="rotate(-45 268.1 270.8)">10 nM</text>
<rect x="274.5" y="237.76" width="9.2" height="24.74" fill="#ff8c00"/>
<line x1="279.1" y1="237.76" x2="279.1" y2="234.29" stroke="#111" stroke-width="0.9"/>
<line x1="276.9" y1="234.29" x2="281.3" y2="234.29" stroke="#111" stroke-width="0.9"/>
<line x1="274.5" y1="238.06" x2="283.7" y2="238.06" stroke="#333" stroke-width="0.6"/>
<line x1="279.1" y1="262.5" x2="279.1" y2="265.1" stroke="#222" stroke-width="1"/>
<text x="282.7" y="270.8" font-size="7.6" text-anchor="end" fill="#222" transform="rotate(-45 282.7 270.8)">100 nM</text>
<rect x="289.1" y="209.01" width="9.2" height="53.49" fill="#0b6a50"/>
<line x1="293.7" y1="209.01" x2="293.7" y2="199.57" stroke="#111" stroke-width="0.9"/>
<line x1="291.5" y1="199.57" x2="295.9" y2="199.57" stroke="#111" stroke-width="0.9"/>
<line x1="289.1" y1="209.31" x2="298.3" y2="209.31" stroke="#333" stroke-width="0.6"/>
<line x1="293.7" y1="262.5" x2="293.7" y2="265.1" stroke="#222" stroke-width="1"/>
<text x="297.3" y="270.8" font-size="7.6" text-anchor="end" fill="#222" transform="rotate(-45 297.3 270.8)">1 µM</text>
<text transform="translate(190.5 205.6) rotate(-90)" font-size="9.0" text-anchor="middle" fill="#222" style="stroke-width:0.28px" textLength="55.2" lengthAdjust="spacingAndGlyphs">% Annexin V+ cells</text>
<line x1="221.4" y1="294.1" x2="297.2" y2="294.1" stroke="#222" stroke-width="1.1"/>
<text x="259.1" y="305.6" font-size="8.8" text-anchor="middle" font-weight="bold" fill="#222" textLength="12.4" lengthAdjust="spacingAndGlyphs">VEN</text>
<line x1="371.2" y1="148.8" x2="371.2" y2="263.1" stroke="#222" stroke-width="1.1"/>
<line x1="368.6" y1="262.5" x2="463" y2="262.5" stroke="#222" stroke-width="1.3"/>
<text x="366.2" y="265.1" font-size="7.3" text-anchor="end" fill="#222">0</text>
<line x1="368.2" y1="235.38" x2="371.2" y2="235.38" stroke="#222" stroke-width="1"/>
<text x="366.2" y="237.97" font-size="7.3" text-anchor="end" fill="#222">25</text>
<line x1="368.2" y1="208.25" x2="371.2" y2="208.25" stroke="#222" stroke-width="1"/>
<text x="366.2" y="210.85" font-size="7.3" text-anchor="end" fill="#222">50</text>
<line x1="368.2" y1="181.12" x2="371.2" y2="181.12" stroke="#222" stroke-width="1"/>
<text x="366.2" y="183.72" font-size="7.3" text-anchor="end" fill="#222">75</text>
<line x1="368.2" y1="154" x2="371.2" y2="154" stroke="#222" stroke-width="1"/>
<text x="366.2" y="156.6" font-size="7.3" text-anchor="end" fill="#222">100</text>
<rect x="373.8" y="247.53" width="9.2" height="14.97" fill="#c8102e"/>
<line x1="378.4" y1="247.53" x2="378.4" y2="246.01" stroke="#111" stroke-width="0.9"/>
<line x1="376.2" y1="246.01" x2="380.6" y2="246.01" stroke="#111" stroke-width="0.9"/>
<line x1="373.8" y1="247.83" x2="383" y2="247.83" stroke="#333" stroke-width="0.6"/>
<line x1="378.4" y1="262.5" x2="378.4" y2="265.1" stroke="#222" stroke-width="1"/>
<text x="382" y="270.8" font-size="7.6" text-anchor="end" fill="#222" transform="rotate(-45 382 270.8)">DMSO</text>
<rect x="388.4" y="248.72" width="9.2" height="13.78" fill="#17508c"/>
<line x1="393" y1="248.72" x2="393" y2="247.31" stroke="#111" stroke-width="0.9"/>
<line x1="390.8" y1="247.31" x2="395.2" y2="247.31" stroke="#111" stroke-width="0.9"/>
<line x1="388.4" y1="249.02" x2="397.6" y2="249.02" stroke="#333" stroke-width="0.6"/>
<line x1="393" y1="262.5" x2="393" y2="265.1" stroke="#222" stroke-width="1"/>
<text x="396.6" y="270.8" font-size="7.6" text-anchor="end" fill="#222" transform="rotate(-45 396.6 270.8)">1 nM</text>
<rect x="403" y="243.62" width="9.2" height="18.88" fill="#3db54a"/>
<line x1="407.6" y1="243.62" x2="407.6" y2="242.32" stroke="#111" stroke-width="0.9"/>
<line x1="405.4" y1="242.32" x2="409.8" y2="242.32" stroke="#111" stroke-width="0.9"/>
<line x1="403" y1="243.92" x2="412.2" y2="243.92" stroke="#333" stroke-width="0.6"/>
<line x1="407.6" y1="262.5" x2="407.6" y2="265.1" stroke="#222" stroke-width="1"/>
<text x="411.2" y="270.8" font-size="7.6" text-anchor="end" fill="#222" transform="rotate(-45 411.2 270.8)">5 nM</text>
<rect x="417.6" y="240.58" width="9.2" height="21.92" fill="#5b2a7c"/>
<line x1="422.2" y1="240.58" x2="422.2" y2="239.06" stroke="#111" stroke-width="0.9"/>
<line x1="420" y1="239.06" x2="424.4" y2="239.06" stroke="#111" stroke-width="0.9"/>
<line x1="417.6" y1="240.88" x2="426.8" y2="240.88" stroke="#333" stroke-width="0.6"/>
<line x1="422.2" y1="262.5" x2="422.2" y2="265.1" stroke="#222" stroke-width="1"/>
<text x="425.8" y="270.8" font-size="7.6" text-anchor="end" fill="#222" transform="rotate(-45 425.8 270.8)">10 nM</text>
<rect x="432.2" y="239.93" width="9.2" height="22.57" fill="#ff8c00"/>
<line x1="436.8" y1="239.93" x2="436.8" y2="235.81" stroke="#111" stroke-width="0.9"/>
<line x1="434.6" y1="235.81" x2="439" y2="235.81" stroke="#111" stroke-width="0.9"/>
<line x1="432.2" y1="240.23" x2="441.4" y2="240.23" stroke="#333" stroke-width="0.6"/>
<line x1="436.8" y1="262.5" x2="436.8" y2="265.1" stroke="#222" stroke-width="1"/>
<text x="440.4" y="270.8" font-size="7.6" text-anchor="end" fill="#222" transform="rotate(-45 440.4 270.8)">100 nM</text>
<rect x="446.8" y="244.49" width="9.2" height="18.01" fill="#0b6a50"/>
<line x1="451.4" y1="244.49" x2="451.4" y2="243.4" stroke="#111" stroke-width="0.9"/>
<line x1="449.2" y1="243.4" x2="453.6" y2="243.4" stroke="#111" stroke-width="0.9"/>
<line x1="446.8" y1="244.79" x2="456" y2="244.79" stroke="#333" stroke-width="0.6"/>
<line x1="451.4" y1="262.5" x2="451.4" y2="265.1" stroke="#222" stroke-width="1"/>
<text x="455" y="270.8" font-size="7.6" text-anchor="end" fill="#222" transform="rotate(-45 455 270.8)">1 µM</text>
<text transform="translate(348.2 205.6) rotate(-90)" font-size="9.0" text-anchor="middle" fill="#222" style="stroke-width:0.28px" textLength="55.2" lengthAdjust="spacingAndGlyphs">% Annexin V+ cells</text>
<line x1="381.4" y1="294.1" x2="456.8" y2="294.1" stroke="#222" stroke-width="1.1"/>
<text x="419.1" y="305.6" font-size="8.8" text-anchor="middle" font-weight="bold" fill="#222" textLength="12.4" lengthAdjust="spacingAndGlyphs">VEN</text>
<rect x="50.5" y="379" width="110.8" height="18.2" fill="#c2c2c2"/>
<rect x="50.5" y="407.2" width="110.8" height="19.6" fill="#c2c2c2"/>
<rect x="50.5" y="436.8" width="110.8" height="19.3" fill="#c2c2c2"/>
<rect x="50.5" y="466.1" width="110.8" height="19.2" fill="#bababa"/>
<rect x="50.5" y="495.3" width="110.8" height="19.1" fill="#c4c4c4"/>
<rect x="50.5" y="524.4" width="110.8" height="19.7" fill="#bcbcbc"/>
<linearGradient id="g1" x1="0" y1="0" x2="0" y2="1"><stop offset="0" stop-color="#b8b8b8"/><stop offset="1" stop-color="#a8a8a8"/></linearGradient>
<rect x="50.5" y="554.1" width="110.8" height="19.3" fill="url(#g1)"/>
<rect x="50.5" y="583.4" width="110.8" height="19.6" fill="#c6c6c6"/>
<rect x="50.5" y="613" width="110.8" height="18.5" fill="#b2b2b2"/>
<linearGradient id="g2" x1="0" y1="0" x2="0" y2="1"><stop offset="0" stop-color="#c4c4c4"/><stop offset="1" stop-color="#b2b2b2"/></linearGradient>
<rect x="50.5" y="641.5" width="110.8" height="19.2" fill="url(#g2)"/>
<g filter="url(#blur)">
<polyline points="52.5,388.8 56,388 60,387.4 66,388.4 69.2,389.6 72,388.3 75,387.6 78,387 80.9,386.6 84,387.4 88.2,389.2 91,388 93.7,387.4 97,388 100.4,389.3 103,388.6 106,388.6" fill="none" stroke="#000" stroke-width="3.3" stroke-linecap="round" stroke-linejoin="round"/>
<polyline points="107.4,384.2 110,382.7 114.4,381.9 118,382.5 120.6,384.3" fill="none" stroke="#000" stroke-width="3.4" stroke-linecap="round" stroke-linejoin="round"/>
<polyline points="122.8,388.5 127,387.3 132.8,386.7 137,387.3 140.3,388.4 144,386.6 147.8,385.9 154,386.2 159.3,387.6" fill="none" stroke="#000" stroke-width="3.5" stroke-linecap="round" stroke-linejoin="round"/>
<line x1="95.8" y1="417.8" x2="104.2" y2="417.8" stroke="#a4a4a4" stroke-width="2.6" stroke-linecap="round" opacity="1"/>
<polyline points="110.5,417.4 115.5,418.9 120.5,417.6" fill="none" stroke="#5a5a5a" stroke-width="3.8" stroke-linecap="round" stroke-linejoin="round"/>
<line x1="126.8" y1="417.4" x2="135.5" y2="417.4" stroke="#000" stroke-width="6.6" stroke-linecap="round" opacity="1"/>
<line x1="143.9" y1="415.5" x2="157.4" y2="415.5" stroke="#000" stroke-width="7.2" stroke-linecap="round" opacity="1"/>
<line x1="52.9" y1="444.4" x2="66.8" y2="444.4" stroke="#000" stroke-width="4.2" stroke-linecap="round" opacity="1"/>
<line x1="71.4" y1="444.6" x2="85.4" y2="444.6" stroke="#000" stroke-width="4" stroke-linecap="round" opacity="1"/>
<line x1="89.8" y1="444.6" x2="103.8" y2="444.6" stroke="#000" stroke-width="4" stroke-linecap="round" opacity="1"/>
<line x1="108.2" y1="444.6" x2="119.6" y2="444.6" stroke="#000" stroke-width="4" stroke-linecap="round" opacity="1"/>
<line x1="125.9" y1="445.5" x2="138.6" y2="445.5" stroke="#a8a8a8" stroke-width="1.8" stroke-linecap="round" opacity="1"/>
<line x1="87.2" y1="475.3" x2="102.6" y2="475.3" stroke="#9a9a9a" stroke-width="2.4" stroke-linecap="round" opacity="1"/>
<line x1="106.3" y1="475.3" x2="118" y2="475.3" stroke="#7c7c7c" stroke-width="2.8" stroke-linecap="round" opacity="1"/>
<line x1="125.2" y1="475" x2="137" y2="475" stroke="#484848" stroke-width="5" stroke-linecap="round" opacity="1"/>
<line x1="145.7" y1="474.5" x2="157.7" y2="474.5" stroke="#3c3c3c" stroke-width="5.8" stroke-linecap="round" opacity="1"/>
<line x1="53.8" y1="507.2" x2="65.5" y2="507.2" stroke="#000" stroke-width="5" stroke-linecap="round" opacity="1"/>
<line x1="73.4" y1="507.4" x2="83.9" y2="507.4" stroke="#0a0a0a" stroke-width="4" stroke-linecap="round" opacity="1"/>
<line x1="89.7" y1="507.5" x2="101.1" y2="507.5" stroke="#1a1a1a" stroke-width="3" stroke-linecap="round" opacity="1"/>
<line x1="108.3" y1="508" x2="119.3" y2="508" stroke="#333" stroke-width="2.4" stroke-linecap="round" opacity="1"/>
<line x1="89" y1="533.3" x2="97.2" y2="533.3" stroke="#a0a0a0" stroke-width="2" stroke-linecap="round" opacity="1"/>
<line x1="106.9" y1="533.2" x2="118.5" y2="533.2" stroke="#383838" stroke-width="4" stroke-linecap="round" opacity="1"/>
<line x1="124.2" y1="532.2" x2="135.7" y2="532.2" stroke="#262626" stroke-width="5.2" stroke-linecap="round" opacity="1"/>
<line x1="143.4" y1="532.4" x2="156.7" y2="532.4" stroke="#1c1c1c" stroke-width="5.6" stroke-linecap="round" opacity="1"/>
<line x1="51.9" y1="561.4" x2="67.7" y2="561.4" stroke="#1a1a1a" stroke-width="2.2" stroke-linecap="round" opacity="1"/>
<line x1="70.3" y1="561.8" x2="85.9" y2="561.8" stroke="#1a1a1a" stroke-width="2.2" stroke-linecap="round" opacity="1"/>
<line x1="88.5" y1="561.6" x2="102.9" y2="561.6" stroke="#1a1a1a" stroke-width="2.2" stroke-linecap="round" opacity="1"/>
<line x1="108.1" y1="563.3" x2="119.4" y2="563.3" stroke="#222" stroke-width="2.2" stroke-linecap="round" opacity="1"/>
<line x1="107.9" y1="567" x2="119.6" y2="567" stroke="#3a3a3a" stroke-width="1.8" stroke-linecap="round" opacity="1"/>
<line x1="91.6" y1="593" x2="101.5" y2="593" stroke="#000" stroke-width="4.6" stroke-linecap="round" opacity="1"/>
<line x1="110" y1="593" x2="121.4" y2="593" stroke="#000" stroke-width="7.2" stroke-linecap="round" opacity="1"/>
<line x1="127.25" y1="593.5" x2="137.25" y2="593.5" stroke="#b4b4b4" stroke-width="1.5" stroke-linecap="round" opacity="1"/>
<line x1="72.6" y1="593.3" x2="79.4" y2="593.3" stroke="#bcbcbc" stroke-width="1.2" stroke-linecap="round" opacity="1"/>
<line x1="53.9" y1="624.2" x2="65.4" y2="624.2" stroke="#161616" stroke-width="5.8" stroke-linecap="round" opacity="1"/>
<line x1="72.9" y1="624.2" x2="83.7" y2="624.2" stroke="#161616" stroke-width="5.8" stroke-linecap="round" opacity="1"/>
<line x1="91.6" y1="624" x2="102.4" y2="624" stroke="#161616" stroke-width="5.2" stroke-linecap="round" opacity="1"/>
<line x1="111" y1="624" x2="121.5" y2="624" stroke="#161616" stroke-width="5" stroke-linecap="round" opacity="1"/>
<line x1="53.6" y1="651.6" x2="66.7" y2="651.6" stroke="#000" stroke-width="5.6" stroke-linecap="round" opacity="1"/>
<line x1="71.6" y1="651.6" x2="85" y2="651.6" stroke="#000" stroke-width="5.6" stroke-linecap="round" opacity="1"/>
<line x1="89.9" y1="651.3" x2="103.1" y2="651.3" stroke="#000" stroke-width="5.8" stroke-linecap="round" opacity="1"/>
<line x1="108.2" y1="651.6" x2="121.3" y2="651.6" stroke="#000" stroke-width="5.4" stroke-linecap="round" opacity="1"/>
<line x1="127.7" y1="651.4" x2="138.9" y2="651.4" stroke="#111" stroke-width="3.4" stroke-linecap="round" opacity="1"/>
<line x1="146.75" y1="651" x2="157.65" y2="651" stroke="#adadad" stroke-width="1.5" stroke-linecap="round" opacity="1"/>
</g>
<rect x="50.5" y="396.8" width="110.8" height="10.4" fill="#fff" stroke="#8c8c8c" stroke-width="0.8"/>
<line x1="68.97" y1="396.8" x2="68.97" y2="407.2" stroke="#666" stroke-width="0.8"/>
<line x1="87.43" y1="396.8" x2="87.43" y2="407.2" stroke="#666" stroke-width="0.8"/>
<line x1="105.9" y1="396.8" x2="105.9" y2="407.2" stroke="#666" stroke-width="0.8"/>
<line x1="124.37" y1="396.8" x2="124.37" y2="407.2" stroke="#666" stroke-width="0.8"/>
<line x1="142.83" y1="396.8" x2="142.83" y2="407.2" stroke="#666" stroke-width="0.8"/>
<text x="59.73" y="404.7" font-size="7" text-anchor="middle" fill="#222" style="stroke-width:0.12px">1.00</text>
<text x="78.2" y="404.7" font-size="7" text-anchor="middle" fill="#222" style="stroke-width:0.12px">0.86</text>
<text x="96.67" y="404.7" font-size="7" text-anchor="middle" fill="#222" style="stroke-width:0.12px">0.85</text>
<text x="115.13" y="404.7" font-size="7" text-anchor="middle" fill="#222" style="stroke-width:0.12px">0.71</text>
<text x="133.6" y="404.7" font-size="7" text-anchor="middle" fill="#222" style="stroke-width:0.12px">1.28</text>
<text x="152.07" y="404.7" font-size="7" text-anchor="middle" fill="#222" style="stroke-width:0.12px">18.30</text>
<rect x="50.5" y="426.4" width="110.8" height="10.4" fill="#fff" stroke="#8c8c8c" stroke-width="0.8"/>
<line x1="68.97" y1="426.4" x2="68.97" y2="436.8" stroke="#666" stroke-width="0.8"/>
<line x1="87.43" y1="426.4" x2="87.43" y2="436.8" stroke="#666" stroke-width="0.8"/>
<line x1="105.9" y1="426.4" x2="105.9" y2="436.8" stroke="#666" stroke-width="0.8"/>
<line x1="124.37" y1="426.4" x2="124.37" y2="436.8" stroke="#666" stroke-width="0.8"/>
<line x1="142.83" y1="426.4" x2="142.83" y2="436.8" stroke="#666" stroke-width="0.8"/>
<text x="59.73" y="434.3" font-size="7" text-anchor="middle" fill="#222" style="stroke-width:0.12px">1.00</text>
<text x="78.2" y="434.3" font-size="7" text-anchor="middle" fill="#222" style="stroke-width:0.12px">N/A</text>
<text x="96.67" y="434.3" font-size="7" text-anchor="middle" fill="#222" style="stroke-width:0.12px">0.08</text>
<text x="115.13" y="434.3" font-size="7" text-anchor="middle" fill="#222" style="stroke-width:0.12px">0.36</text>
<text x="133.6" y="434.3" font-size="7" text-anchor="middle" fill="#222" style="stroke-width:0.12px">2.13</text>
<text x="152.07" y="434.3" font-size="7" text-anchor="middle" fill="#222" style="stroke-width:0.12px">41.38</text>
<rect x="50.5" y="455.7" width="110.8" height="10.4" fill="#fff" stroke="#8c8c8c" stroke-width="0.8"/>
<line x1="68.97" y1="455.7" x2="68.97" y2="466.1" stroke="#666" stroke-width="0.8"/>
<line x1="87.43" y1="455.7" x2="87.43" y2="466.1" stroke="#666" stroke-width="0.8"/>
<line x1="105.9" y1="455.7" x2="105.9" y2="466.1" stroke="#666" stroke-width="0.8"/>
<line x1="124.37" y1="455.7" x2="124.37" y2="466.1" stroke="#666" stroke-width="0.8"/>
<line x1="142.83" y1="455.7" x2="142.83" y2="466.1" stroke="#666" stroke-width="0.8"/>
<text x="59.73" y="463.6" font-size="7" text-anchor="middle" fill="#222" style="stroke-width:0.12px">1.00</text>
<text x="78.2" y="463.6" font-size="7" text-anchor="middle" fill="#222" style="stroke-width:0.12px">1.05</text>
<text x="96.67" y="463.6" font-size="7" text-anchor="middle" fill="#222" style="stroke-width:0.12px">0.88</text>
<text x="115.13" y="463.6" font-size="7" text-anchor="middle" fill="#222" style="stroke-width:0.12px">0.86</text>
<text x="133.6" y="463.6" font-size="7" text-anchor="middle" fill="#222" style="stroke-width:0.12px">0.09</text>
<text x="152.07" y="463.6" font-size="7" text-anchor="middle" fill="#222" style="stroke-width:0.12px">N/A</text>
<rect x="50.5" y="484.9" width="110.8" height="10.4" fill="#fff" stroke="#8c8c8c" stroke-width="0.8"/>
<line x1="68.97" y1="484.9" x2="68.97" y2="495.3" stroke="#666" stroke-width="0.8"/>
<line x1="87.43" y1="484.9" x2="87.43" y2="495.3" stroke="#666" stroke-width="0.8"/>
<line x1="105.9" y1="484.9" x2="105.9" y2="495.3" stroke="#666" stroke-width="0.8"/>
<line x1="124.37" y1="484.9" x2="124.37" y2="495.3" stroke="#666" stroke-width="0.8"/>
<line x1="142.83" y1="484.9" x2="142.83" y2="495.3" stroke="#666" stroke-width="0.8"/>
<text x="59.73" y="492.8" font-size="7" text-anchor="middle" fill="#222" style="stroke-width:0.12px">1.00</text>
<text x="78.2" y="492.8" font-size="7" text-anchor="middle" fill="#222" style="stroke-width:0.12px">N/A</text>
<text x="96.67" y="492.8" font-size="7" text-anchor="middle" fill="#222" style="stroke-width:0.12px">0.04</text>
<text x="115.13" y="492.8" font-size="7" text-anchor="middle" fill="#222" style="stroke-width:0.12px">0.09</text>
<text x="133.6" y="492.8" font-size="7" text-anchor="middle" fill="#222" style="stroke-width:0.12px">1.35</text>
<text x="152.07" y="492.8" font-size="7" text-anchor="middle" fill="#222" style="stroke-width:0.12px">36.45</text>
<rect x="50.5" y="514" width="110.8" height="10.4" fill="#fff" stroke="#8c8c8c" stroke-width="0.8"/>
<line x1="68.97" y1="514" x2="68.97" y2="524.4" stroke="#666" stroke-width="0.8"/>
<line x1="87.43" y1="514" x2="87.43" y2="524.4" stroke="#666" stroke-width="0.8"/>
<line x1="105.9" y1="514" x2="105.9" y2="524.4" stroke="#666" stroke-width="0.8"/>
<line x1="124.37" y1="514" x2="124.37" y2="524.4" stroke="#666" stroke-width="0.8"/>
<line x1="142.83" y1="514" x2="142.83" y2="524.4" stroke="#666" stroke-width="0.8"/>
<text x="59.73" y="521.9" font-size="7" text-anchor="middle" fill="#222" style="stroke-width:0.12px">1.00</text>
<text x="78.2" y="521.9" font-size="7" text-anchor="middle" fill="#222" style="stroke-width:0.12px">0.81</text>
<text x="96.67" y="521.9" font-size="7" text-anchor="middle" fill="#222" style="stroke-width:0.12px">0.57</text>
<text x="115.13" y="521.9" font-size="7" text-anchor="middle" fill="#222" style="stroke-width:0.12px">0.23</text>
<text x="133.6" y="521.9" font-size="7" text-anchor="middle" fill="#222" style="stroke-width:0.12px">0.09</text>
<text x="152.07" y="521.9" font-size="7" text-anchor="middle" fill="#222" style="stroke-width:0.12px">N/A</text>
<rect x="50.5" y="543.7" width="110.8" height="10.4" fill="#fff" stroke="#8c8c8c" stroke-width="0.8"/>
<line x1="68.97" y1="543.7" x2="68.97" y2="554.1" stroke="#666" stroke-width="0.8"/>
<line x1="87.43" y1="543.7" x2="87.43" y2="554.1" stroke="#666" stroke-width="0.8"/>
<line x1="105.9" y1="543.7" x2="105.9" y2="554.1" stroke="#666" stroke-width="0.8"/>
<line x1="124.37" y1="543.7" x2="124.37" y2="554.1" stroke="#666" stroke-width="0.8"/>
<line x1="142.83" y1="543.7" x2="142.83" y2="554.1" stroke="#666" stroke-width="0.8"/>
<text x="59.73" y="551.6" font-size="7" text-anchor="middle" fill="#222" style="stroke-width:0.12px">1.00</text>
<text x="78.2" y="551.6" font-size="7" text-anchor="middle" fill="#222" style="stroke-width:0.12px">N/A</text>
<text x="96.67" y="551.6" font-size="7" text-anchor="middle" fill="#222" style="stroke-width:0.12px">0.12</text>
<text x="115.13" y="551.6" font-size="7" text-anchor="middle" fill="#222" style="stroke-width:0.12px">0.60</text>
<text x="133.6" y="551.6" font-size="7" text-anchor="middle" fill="#222" style="stroke-width:0.12px">1.76</text>
<text x="152.07" y="551.6" font-size="7" text-anchor="middle" fill="#222" style="stroke-width:0.12px">35.28</text>
<rect x="50.5" y="573" width="110.8" height="10.4" fill="#fff" stroke="#8c8c8c" stroke-width="0.8"/>
<line x1="68.97" y1="573" x2="68.97" y2="583.4" stroke="#666" stroke-width="0.8"/>
<line x1="87.43" y1="573" x2="87.43" y2="583.4" stroke="#666" stroke-width="0.8"/>
<line x1="105.9" y1="573" x2="105.9" y2="583.4" stroke="#666" stroke-width="0.8"/>
<line x1="124.37" y1="573" x2="124.37" y2="583.4" stroke="#666" stroke-width="0.8"/>
<line x1="142.83" y1="573" x2="142.83" y2="583.4" stroke="#666" stroke-width="0.8"/>
<text x="59.73" y="580.9" font-size="7" text-anchor="middle" fill="#222" style="stroke-width:0.12px">1.00</text>
<text x="78.2" y="580.9" font-size="7" text-anchor="middle" fill="#222" style="stroke-width:0.12px">0.74</text>
<text x="96.67" y="580.9" font-size="7" text-anchor="middle" fill="#222" style="stroke-width:0.12px">0.69</text>
<text x="115.13" y="580.9" font-size="7" text-anchor="middle" fill="#222" style="stroke-width:0.12px">0.42</text>
<text x="133.6" y="580.9" font-size="7" text-anchor="middle" fill="#222" style="stroke-width:0.12px">0.05</text>
<text x="152.07" y="580.9" font-size="7" text-anchor="middle" fill="#222" style="stroke-width:0.12px">N/A</text>
<rect x="50.5" y="602.6" width="110.8" height="10.4" fill="#fff" stroke="#8c8c8c" stroke-width="0.8"/>
<line x1="68.97" y1="602.6" x2="68.97" y2="613" stroke="#666" stroke-width="0.8"/>
<line x1="87.43" y1="602.6" x2="87.43" y2="613" stroke="#666" stroke-width="0.8"/>
<line x1="105.9" y1="602.6" x2="105.9" y2="613" stroke="#666" stroke-width="0.8"/>
<line x1="124.37" y1="602.6" x2="124.37" y2="613" stroke="#666" stroke-width="0.8"/>
<line x1="142.83" y1="602.6" x2="142.83" y2="613" stroke="#666" stroke-width="0.8"/>
<text x="59.73" y="610.5" font-size="7" text-anchor="middle" fill="#222" style="stroke-width:0.12px">1.00</text>
<text x="78.2" y="610.5" font-size="7" text-anchor="middle" fill="#222" style="stroke-width:0.12px">0.01</text>
<text x="96.67" y="610.5" font-size="7" text-anchor="middle" fill="#222" style="stroke-width:0.12px">0.94</text>
<text x="115.13" y="610.5" font-size="7" text-anchor="middle" fill="#222" style="stroke-width:0.12px">1.56</text>
<text x="133.6" y="610.5" font-size="7" text-anchor="middle" fill="#222" style="stroke-width:0.12px">0.08</text>
<text x="152.07" y="610.5" font-size="7" text-anchor="middle" fill="#222" style="stroke-width:0.12px">N/A</text>
<rect x="50.5" y="631.1" width="110.8" height="10.4" fill="#fff" stroke="#8c8c8c" stroke-width="0.8"/>
<line x1="68.97" y1="631.1" x2="68.97" y2="641.5" stroke="#666" stroke-width="0.8"/>
<line x1="87.43" y1="631.1" x2="87.43" y2="641.5" stroke="#666" stroke-width="0.8"/>
<line x1="105.9" y1="631.1" x2="105.9" y2="641.5" stroke="#666" stroke-width="0.8"/>
<line x1="124.37" y1="631.1" x2="124.37" y2="641.5" stroke="#666" stroke-width="0.8"/>
<line x1="142.83" y1="631.1" x2="142.83" y2="641.5" stroke="#666" stroke-width="0.8"/>
<text x="59.73" y="639" font-size="7" text-anchor="middle" fill="#222" style="stroke-width:0.12px">1.00</text>
<text x="78.2" y="639" font-size="7" text-anchor="middle" fill="#222" style="stroke-width:0.12px">1.07</text>
<text x="96.67" y="639" font-size="7" text-anchor="middle" fill="#222" style="stroke-width:0.12px">0.89</text>
<text x="115.13" y="639" font-size="7" text-anchor="middle" fill="#222" style="stroke-width:0.12px">0.69</text>
<text x="133.6" y="639" font-size="7" text-anchor="middle" fill="#222" style="stroke-width:0.12px">N/A</text>
<text x="152.07" y="639" font-size="7" text-anchor="middle" fill="#222" style="stroke-width:0.12px">N/A</text>
<rect x="50.5" y="660.3" width="110.8" height="10.4" fill="#fff" stroke="#8c8c8c" stroke-width="0.8"/>
<line x1="68.97" y1="660.3" x2="68.97" y2="670.7" stroke="#666" stroke-width="0.8"/>
<line x1="87.43" y1="660.3" x2="87.43" y2="670.7" stroke="#666" stroke-width="0.8"/>
<line x1="105.9" y1="660.3" x2="105.9" y2="670.7" stroke="#666" stroke-width="0.8"/>
<line x1="124.37" y1="660.3" x2="124.37" y2="670.7" stroke="#666" stroke-width="0.8"/>
<line x1="142.83" y1="660.3" x2="142.83" y2="670.7" stroke="#666" stroke-width="0.8"/>
<text x="59.73" y="668.2" font-size="7" text-anchor="middle" fill="#222" style="stroke-width:0.12px">1.00</text>
<text x="78.2" y="668.2" font-size="7" text-anchor="middle" fill="#222" style="stroke-width:0.12px">0.96</text>
<text x="96.67" y="668.2" font-size="7" text-anchor="middle" fill="#222" style="stroke-width:0.12px">0.98</text>
<text x="115.13" y="668.2" font-size="7" text-anchor="middle" fill="#222" style="stroke-width:0.12px">0.99</text>
<text x="133.6" y="668.2" font-size="7" text-anchor="middle" fill="#222" style="stroke-width:0.12px">0.53</text>
<text x="152.07" y="668.2" font-size="7" text-anchor="middle" fill="#222" style="stroke-width:0.12px">0.03</text>
<linearGradient id="g3" x1="0" y1="0" x2="0" y2="1"><stop offset="0" stop-color="#c0c0c0"/><stop offset="1" stop-color="#b8b8b8"/></linearGradient>
<rect x="209.2" y="379" width="110.8" height="18.2" fill="url(#g3)"/>
<rect x="209.2" y="407.2" width="110.8" height="19.6" fill="#bcbcbc"/>
<linearGradient id="g4" x1="0" y1="0" x2="0" y2="1"><stop offset="0" stop-color="#bcbcbc"/><stop offset="1" stop-color="#c6c6c6"/></linearGradient>
<rect x="209.2" y="436.8" width="110.8" height="19.3" fill="url(#g4)"/>
<rect x="209.2" y="466.1" width="110.8" height="19.2" fill="#aaaaaa"/>
<linearGradient id="g5" x1="0" y1="0" x2="0" y2="1"><stop offset="0" stop-color="#9c9c9c"/><stop offset="1" stop-color="#aaaaaa"/></linearGradient>
<rect x="209.2" y="495.3" width="110.8" height="19.1" fill="url(#g5)"/>
<rect x="209.2" y="524.4" width="110.8" height="19.7" fill="#aaaaaa"/>
<linearGradient id="g6" x1="0" y1="0" x2="0" y2="1"><stop offset="0" stop-color="#c8c8c8"/><stop offset="1" stop-color="#d2d2d2"/></linearGradient>
<rect x="209.2" y="554.1" width="110.8" height="19.3" fill="url(#g6)"/>
<rect x="209.2" y="583.4" width="110.8" height="19.6" fill="#b6b6b6"/>
<rect x="209.2" y="613" width="110.8" height="18.5" fill="#9a9a9a"/>
<rect x="209.2" y="641.5" width="110.8" height="19.2" fill="#bcbcbc"/>
<g filter="url(#blur)">
<line x1="213.5" y1="386.8" x2="225.3" y2="386.8" stroke="#000" stroke-width="6" stroke-linecap="round" opacity="1"/>
<path d="M230.2 386.6 Q231 384.0 234.0 384.8 L236 385.6 L244.0 385.7 L244.0 387.5 L236 387.6 L234.0 388.4 Q231 389.2 230.2 386.6Z" fill="#0a0a0a"/>
<line x1="248.6" y1="386.5" x2="259.3" y2="386.5" stroke="#111" stroke-width="4" stroke-linecap="round" opacity="1"/>
<line x1="267.2" y1="387" x2="279.7" y2="387" stroke="#7a7a7a" stroke-width="2" stroke-linecap="round" opacity="1"/>
<line x1="285.6" y1="386.8" x2="297.2" y2="386.8" stroke="#1a1a1a" stroke-width="3.2" stroke-linecap="round" opacity="1"/>
<line x1="304.5" y1="386.5" x2="315" y2="386.5" stroke="#111" stroke-width="5" stroke-linecap="round" opacity="1"/>
<line x1="267" y1="412.8" x2="279.7" y2="412.8" stroke="#7a7a7a" stroke-width="2" stroke-linecap="round" opacity="1"/>
<line x1="267.5" y1="420.3" x2="279.2" y2="420.3" stroke="#6a6a6a" stroke-width="3" stroke-linecap="round" opacity="1"/>
<line x1="285.25" y1="412.8" x2="297.75" y2="412.8" stroke="#555" stroke-width="2.5" stroke-linecap="round" opacity="1"/>
<line x1="285.3" y1="420.3" x2="297.7" y2="420.3" stroke="#666" stroke-width="2.6" stroke-linecap="round" opacity="1"/>
<line x1="303.3" y1="413" x2="316.1" y2="413" stroke="#000" stroke-width="5" stroke-linecap="round" opacity="1"/>
<line x1="303.6" y1="420.2" x2="315.8" y2="420.2" stroke="#000" stroke-width="5.6" stroke-linecap="round" opacity="1"/>
<circle cx="225.6" cy="416.8" r="0.9" fill="#444"/>
<line x1="211.1" y1="444.4" x2="226" y2="444.4" stroke="#151515" stroke-width="3" stroke-linecap="round" opacity="1"/>
<line x1="229.57" y1="444.4" x2="244.47" y2="444.4" stroke="#151515" stroke-width="3" stroke-linecap="round" opacity="1"/>
<line x1="248.04" y1="444.4" x2="262.94" y2="444.4" stroke="#151515" stroke-width="3" stroke-linecap="round" opacity="1"/>
<line x1="266.51" y1="444.4" x2="281.41" y2="444.4" stroke="#151515" stroke-width="3" stroke-linecap="round" opacity="1"/>
<line x1="284.98" y1="444.4" x2="299.88" y2="444.4" stroke="#151515" stroke-width="3" stroke-linecap="round" opacity="1"/>
<line x1="303.45" y1="444.4" x2="318.35" y2="444.4" stroke="#151515" stroke-width="3" stroke-linecap="round" opacity="1"/>
<line x1="267.2" y1="475.3" x2="279.7" y2="475.3" stroke="#6e6e6e" stroke-width="2" stroke-linecap="round" opacity="1"/>
<line x1="286.5" y1="475.3" x2="297.9" y2="475.3" stroke="#3a3a3a" stroke-width="2.6" stroke-linecap="round" opacity="1"/>
<line x1="304" y1="475" x2="316.6" y2="475" stroke="#2a2a2a" stroke-width="4" stroke-linecap="round" opacity="1"/>
<path d="M209.5 496.5 L219 496.5 Q221 498.5 217 499.5 L209.5 500Z" fill="#555" opacity="0.7"/>
<line x1="212.1" y1="502.4" x2="225.9" y2="502.4" stroke="#0a0a0a" stroke-width="4.2" stroke-linecap="round" opacity="1"/>
<line x1="231.3" y1="502.4" x2="244.2" y2="502.4" stroke="#151515" stroke-width="3.6" stroke-linecap="round" opacity="1"/>
<line x1="248.9" y1="502.4" x2="261.6" y2="502.4" stroke="#151515" stroke-width="3.8" stroke-linecap="round" opacity="1"/>
<line x1="267.1" y1="502.6" x2="279.9" y2="502.6" stroke="#2a2a2a" stroke-width="2.2" stroke-linecap="round" opacity="1"/>
<line x1="284.8" y1="502.9" x2="298.2" y2="502.9" stroke="#707070" stroke-width="1.6" stroke-linecap="round" opacity="1"/>
<circle cx="241" cy="508" r="0.7" fill="#333"/><circle cx="310" cy="500.5" r="0.7" fill="#333"/>
<line x1="267.7" y1="534" x2="278.1" y2="534" stroke="#333" stroke-width="3" stroke-linecap="round" opacity="1"/>
<line x1="284.55" y1="534" x2="295.85" y2="534" stroke="#222" stroke-width="5.5" stroke-linecap="round" opacity="1"/>
<line x1="302.7" y1="533.7" x2="315.6" y2="533.7" stroke="#1a1a1a" stroke-width="6" stroke-linecap="round" opacity="1"/>
<line x1="212" y1="564.8" x2="224.5" y2="564.8" stroke="#000" stroke-width="4" stroke-linecap="round" opacity="1"/>
<line x1="230" y1="564.8" x2="242.5" y2="564.8" stroke="#000" stroke-width="4" stroke-linecap="round" opacity="1"/>
<line x1="248" y1="564.8" x2="260.5" y2="564.8" stroke="#000" stroke-width="4" stroke-linecap="round" opacity="1"/>
<line x1="266.25" y1="565" x2="278.75" y2="565" stroke="#444" stroke-width="2.5" stroke-linecap="round" opacity="1"/>
<line x1="283.8" y1="565.3" x2="297.2" y2="565.3" stroke="#9a9a9a" stroke-width="1.6" stroke-linecap="round" opacity="1"/>
<line x1="303" y1="565" x2="317" y2="565" stroke="#707070" stroke-width="2" stroke-linecap="round" opacity="1"/>
<line x1="210.75" y1="592.3" x2="225.25" y2="592.3" stroke="#a4a4a4" stroke-width="1.5" stroke-linecap="round" opacity="1"/>
<line x1="248" y1="592.3" x2="261" y2="592.3" stroke="#808080" stroke-width="2" stroke-linecap="round" opacity="1"/>
<line x1="266.6" y1="592.3" x2="279.4" y2="592.3" stroke="#000" stroke-width="3.2" stroke-linecap="round" opacity="1"/>
<line x1="283.9" y1="592.3" x2="297.1" y2="592.3" stroke="#000" stroke-width="3.8" stroke-linecap="round" opacity="1"/>
<line x1="304.5" y1="592" x2="316.5" y2="592" stroke="#000" stroke-width="5" stroke-linecap="round" opacity="1"/>
<line x1="212.1" y1="623.4" x2="224.9" y2="623.4" stroke="#0a0a0a" stroke-width="4.2" stroke-linecap="round" opacity="1"/>
<line x1="230.9" y1="623.4" x2="243.1" y2="623.4" stroke="#0a0a0a" stroke-width="3.8" stroke-linecap="round" opacity="1"/>
<line x1="248.4" y1="623.2" x2="260.6" y2="623.2" stroke="#0a0a0a" stroke-width="4.8" stroke-linecap="round" opacity="1"/>
<line x1="267.4" y1="623.4" x2="279.6" y2="623.4" stroke="#111" stroke-width="2.8" stroke-linecap="round" opacity="1"/>
<line x1="285.1" y1="623.6" x2="296.9" y2="623.6" stroke="#222" stroke-width="2.2" stroke-linecap="round" opacity="1"/>
<line x1="303.4" y1="623.4" x2="316.6" y2="623.4" stroke="#1a1a1a" stroke-width="2.8" stroke-linecap="round" opacity="1"/>
<path d="M210.2 649.0 Q211.2 651.3 214.7 651.4 L221.7 651.4 Q225.4 651.3 226.4 649.0 L226.6 651.5 Q226 655.4 222.2 655.4 L214.2 655.4 Q210.4 655.4 210 651.5Z" fill="#000"/>
<path d="M228.67 649.0 Q229.67 651.3 233.17 651.4 L240.17 651.4 Q243.87 651.3 244.87 649.0 L245.07 651.5 Q244.47 655.4 240.67 655.4 L232.67 655.4 Q228.87 655.4 228.47 651.5Z" fill="#000"/>
<path d="M247.14 649.0 Q248.14 651.3 251.64 651.4 L258.64 651.4 Q262.34 651.3 263.34 649.0 L263.54 651.5 Q262.94 655.4 259.14 655.4 L251.14 655.4 Q247.34 655.4 246.94 651.5Z" fill="#000"/>
<path d="M265.61 649.0 Q266.61 651.3 270.11 651.4 L277.11 651.4 Q280.81 651.3 281.81 649.0 L282.01 651.5 Q281.41 655.4 277.61 655.4 L269.61 655.4 Q265.81 655.4 265.41 651.5Z" fill="#000"/>
<path d="M284.08 649.0 Q285.08 651.3 288.58 651.4 L295.58 651.4 Q299.28 651.3 300.28 649.0 L300.48 651.5 Q299.88 655.4 296.08 655.4 L288.08 655.4 Q284.28 655.4 283.88 651.5Z" fill="#000"/>
<path d="M302.55 649.0 Q303.55 651.3 307.05 651.4 L314.05 651.4 Q317.75 651.3 318.75 649.0 L318.95 651.5 Q318.35 655.4 314.55 655.4 L306.55 655.4 Q302.75 655.4 302.35 651.5Z" fill="#000"/>
</g>
<rect x="209.2" y="396.8" width="110.8" height="10.4" fill="#fff" stroke="#8c8c8c" stroke-width="0.8"/>
<line x1="227.67" y1="396.8" x2="227.67" y2="407.2" stroke="#666" stroke-width="0.8"/>
<line x1="246.13" y1="396.8" x2="246.13" y2="407.2" stroke="#666" stroke-width="0.8"/>
<line x1="264.6" y1="396.8" x2="264.6" y2="407.2" stroke="#666" stroke-width="0.8"/>
<line x1="283.07" y1="396.8" x2="283.07" y2="407.2" stroke="#666" stroke-width="0.8"/>
<line x1="301.53" y1="396.8" x2="301.53" y2="407.2" stroke="#666" stroke-width="0.8"/>
<text x="218.43" y="404.7" font-size="7" text-anchor="middle" fill="#222" style="stroke-width:0.12px">1.00</text>
<text x="236.9" y="404.7" font-size="7" text-anchor="middle" fill="#222" style="stroke-width:0.12px">0.39</text>
<text x="255.37" y="404.7" font-size="7" text-anchor="middle" fill="#222" style="stroke-width:0.12px">0.45</text>
<text x="273.83" y="404.7" font-size="7" text-anchor="middle" fill="#222" style="stroke-width:0.12px">0.12</text>
<text x="292.3" y="404.7" font-size="7" text-anchor="middle" fill="#222" style="stroke-width:0.12px">0.32</text>
<text x="310.77" y="404.7" font-size="7" text-anchor="middle" fill="#222" style="stroke-width:0.12px">0.71</text>
<rect x="209.2" y="426.4" width="110.8" height="10.4" fill="#fff" stroke="#8c8c8c" stroke-width="0.8"/>
<line x1="227.67" y1="426.4" x2="227.67" y2="436.8" stroke="#666" stroke-width="0.8"/>
<line x1="246.13" y1="426.4" x2="246.13" y2="436.8" stroke="#666" stroke-width="0.8"/>
<line x1="264.6" y1="426.4" x2="264.6" y2="436.8" stroke="#666" stroke-width="0.8"/>
<line x1="283.07" y1="426.4" x2="283.07" y2="436.8" stroke="#666" stroke-width="0.8"/>
<line x1="301.53" y1="426.4" x2="301.53" y2="436.8" stroke="#666" stroke-width="0.8"/>
<text x="218.43" y="434.3" font-size="7" text-anchor="middle" fill="#222" style="stroke-width:0.12px">1.00</text>
<text x="236.9" y="434.3" font-size="7" text-anchor="middle" fill="#222" style="stroke-width:0.12px">0.01</text>
<text x="255.37" y="434.3" font-size="7" text-anchor="middle" fill="#222" style="stroke-width:0.12px">0.04</text>
<text x="273.83" y="434.3" font-size="7" text-anchor="middle" fill="#222" style="stroke-width:0.12px">0.55</text>
<text x="292.3" y="434.3" font-size="7" text-anchor="middle" fill="#222" style="stroke-width:0.12px">0.75</text>
<text x="310.77" y="434.3" font-size="7" text-anchor="middle" fill="#222" style="stroke-width:0.12px">1.25</text>
<rect x="209.2" y="455.7" width="110.8" height="10.4" fill="#fff" stroke="#8c8c8c" stroke-width="0.8"/>
<line x1="227.67" y1="455.7" x2="227.67" y2="466.1" stroke="#666" stroke-width="0.8"/>
<line x1="246.13" y1="455.7" x2="246.13" y2="466.1" stroke="#666" stroke-width="0.8"/>
<line x1="264.6" y1="455.7" x2="264.6" y2="466.1" stroke="#666" stroke-width="0.8"/>
<line x1="283.07" y1="455.7" x2="283.07" y2="466.1" stroke="#666" stroke-width="0.8"/>
<line x1="301.53" y1="455.7" x2="301.53" y2="466.1" stroke="#666" stroke-width="0.8"/>
<text x="218.43" y="463.6" font-size="7" text-anchor="middle" fill="#222" style="stroke-width:0.12px">1.00</text>
<text x="236.9" y="463.6" font-size="7" text-anchor="middle" fill="#222" style="stroke-width:0.12px">0.59</text>
<text x="255.37" y="463.6" font-size="7" text-anchor="middle" fill="#222" style="stroke-width:0.12px">0.62</text>
<text x="273.83" y="463.6" font-size="7" text-anchor="middle" fill="#222" style="stroke-width:0.12px">0.65</text>
<text x="292.3" y="463.6" font-size="7" text-anchor="middle" fill="#222" style="stroke-width:0.12px">0.70</text>
<text x="310.77" y="463.6" font-size="7" text-anchor="middle" fill="#222" style="stroke-width:0.12px">0.72</text>
<rect x="209.2" y="484.9" width="110.8" height="10.4" fill="#fff" stroke="#8c8c8c" stroke-width="0.8"/>
<line x1="227.67" y1="484.9" x2="227.67" y2="495.3" stroke="#666" stroke-width="0.8"/>
<line x1="246.13" y1="484.9" x2="246.13" y2="495.3" stroke="#666" stroke-width="0.8"/>
<line x1="264.6" y1="484.9" x2="264.6" y2="495.3" stroke="#666" stroke-width="0.8"/>
<line x1="283.07" y1="484.9" x2="283.07" y2="495.3" stroke="#666" stroke-width="0.8"/>
<line x1="301.53" y1="484.9" x2="301.53" y2="495.3" stroke="#666" stroke-width="0.8"/>
<text x="218.43" y="492.8" font-size="7" text-anchor="middle" fill="#222" style="stroke-width:0.12px">1.00</text>
<text x="236.9" y="492.8" font-size="7" text-anchor="middle" fill="#222" style="stroke-width:0.12px">0.04</text>
<text x="255.37" y="492.8" font-size="7" text-anchor="middle" fill="#222" style="stroke-width:0.12px">0.06</text>
<text x="273.83" y="492.8" font-size="7" text-anchor="middle" fill="#222" style="stroke-width:0.12px">0.21</text>
<text x="292.3" y="492.8" font-size="7" text-anchor="middle" fill="#222" style="stroke-width:0.12px">0.64</text>
<text x="310.77" y="492.8" font-size="7" text-anchor="middle" fill="#222" style="stroke-width:0.12px">0.92</text>
<rect x="209.2" y="514" width="110.8" height="10.4" fill="#fff" stroke="#8c8c8c" stroke-width="0.8"/>
<line x1="227.67" y1="514" x2="227.67" y2="524.4" stroke="#666" stroke-width="0.8"/>
<line x1="246.13" y1="514" x2="246.13" y2="524.4" stroke="#666" stroke-width="0.8"/>
<line x1="264.6" y1="514" x2="264.6" y2="524.4" stroke="#666" stroke-width="0.8"/>
<line x1="283.07" y1="514" x2="283.07" y2="524.4" stroke="#666" stroke-width="0.8"/>
<line x1="301.53" y1="514" x2="301.53" y2="524.4" stroke="#666" stroke-width="0.8"/>
<text x="218.43" y="521.9" font-size="7" text-anchor="middle" fill="#222" style="stroke-width:0.12px">1.00</text>
<text x="236.9" y="521.9" font-size="7" text-anchor="middle" fill="#222" style="stroke-width:0.12px">0.52</text>
<text x="255.37" y="521.9" font-size="7" text-anchor="middle" fill="#222" style="stroke-width:0.12px">0.56</text>
<text x="273.83" y="521.9" font-size="7" text-anchor="middle" fill="#222" style="stroke-width:0.12px">0.26</text>
<text x="292.3" y="521.9" font-size="7" text-anchor="middle" fill="#222" style="stroke-width:0.12px">0.12</text>
<text x="310.77" y="521.9" font-size="7" text-anchor="middle" fill="#222" style="stroke-width:0.12px">0.06</text>
<rect x="209.2" y="543.7" width="110.8" height="10.4" fill="#fff" stroke="#8c8c8c" stroke-width="0.8"/>
<line x1="227.67" y1="543.7" x2="227.67" y2="554.1" stroke="#666" stroke-width="0.8"/>
<line x1="246.13" y1="543.7" x2="246.13" y2="554.1" stroke="#666" stroke-width="0.8"/>
<line x1="264.6" y1="543.7" x2="264.6" y2="554.1" stroke="#666" stroke-width="0.8"/>
<line x1="283.07" y1="543.7" x2="283.07" y2="554.1" stroke="#666" stroke-width="0.8"/>
<line x1="301.53" y1="543.7" x2="301.53" y2="554.1" stroke="#666" stroke-width="0.8"/>
<text x="218.43" y="551.6" font-size="7" text-anchor="middle" fill="#222" style="stroke-width:0.12px">1.00</text>
<text x="236.9" y="551.6" font-size="7" text-anchor="middle" fill="#222" style="stroke-width:0.12px">0.01</text>
<text x="255.37" y="551.6" font-size="7" text-anchor="middle" fill="#222" style="stroke-width:0.12px">0.05</text>
<text x="273.83" y="551.6" font-size="7" text-anchor="middle" fill="#222" style="stroke-width:0.12px">0.57</text>
<text x="292.3" y="551.6" font-size="7" text-anchor="middle" fill="#222" style="stroke-width:0.12px">1.53</text>
<text x="310.77" y="551.6" font-size="7" text-anchor="middle" fill="#222" style="stroke-width:0.12px">1.77</text>
<rect x="209.2" y="573" width="110.8" height="10.4" fill="#fff" stroke="#8c8c8c" stroke-width="0.8"/>
<line x1="227.67" y1="573" x2="227.67" y2="583.4" stroke="#666" stroke-width="0.8"/>
<line x1="246.13" y1="573" x2="246.13" y2="583.4" stroke="#666" stroke-width="0.8"/>
<line x1="264.6" y1="573" x2="264.6" y2="583.4" stroke="#666" stroke-width="0.8"/>
<line x1="283.07" y1="573" x2="283.07" y2="583.4" stroke="#666" stroke-width="0.8"/>
<line x1="301.53" y1="573" x2="301.53" y2="583.4" stroke="#666" stroke-width="0.8"/>
<text x="218.43" y="580.9" font-size="7" text-anchor="middle" fill="#222" style="stroke-width:0.12px">1.00</text>
<text x="236.9" y="580.9" font-size="7" text-anchor="middle" fill="#222" style="stroke-width:0.12px">0.49</text>
<text x="255.37" y="580.9" font-size="7" text-anchor="middle" fill="#222" style="stroke-width:0.12px">0.57</text>
<text x="273.83" y="580.9" font-size="7" text-anchor="middle" fill="#222" style="stroke-width:0.12px">0.14</text>
<text x="292.3" y="580.9" font-size="7" text-anchor="middle" fill="#222" style="stroke-width:0.12px">0.16</text>
<text x="310.77" y="580.9" font-size="7" text-anchor="middle" fill="#222" style="stroke-width:0.12px">0.04</text>
<rect x="209.2" y="602.6" width="110.8" height="10.4" fill="#fff" stroke="#8c8c8c" stroke-width="0.8"/>
<line x1="227.67" y1="602.6" x2="227.67" y2="613" stroke="#666" stroke-width="0.8"/>
<line x1="246.13" y1="602.6" x2="246.13" y2="613" stroke="#666" stroke-width="0.8"/>
<line x1="264.6" y1="602.6" x2="264.6" y2="613" stroke="#666" stroke-width="0.8"/>
<line x1="283.07" y1="602.6" x2="283.07" y2="613" stroke="#666" stroke-width="0.8"/>
<line x1="301.53" y1="602.6" x2="301.53" y2="613" stroke="#666" stroke-width="0.8"/>
<text x="218.43" y="610.5" font-size="7" text-anchor="middle" fill="#222" style="stroke-width:0.12px">1.00</text>
<text x="236.9" y="610.5" font-size="7" text-anchor="middle" fill="#222" style="stroke-width:0.12px">0.03</text>
<text x="255.37" y="610.5" font-size="7" text-anchor="middle" fill="#222" style="stroke-width:0.12px">0.07</text>
<text x="273.83" y="610.5" font-size="7" text-anchor="middle" fill="#222" style="stroke-width:0.12px">0.20</text>
<text x="292.3" y="610.5" font-size="7" text-anchor="middle" fill="#222" style="stroke-width:0.12px">0.44</text>
<text x="310.77" y="610.5" font-size="7" text-anchor="middle" fill="#222" style="stroke-width:0.12px">0.83</text>
<rect x="209.2" y="631.1" width="110.8" height="10.4" fill="#fff" stroke="#8c8c8c" stroke-width="0.8"/>
<line x1="227.67" y1="631.1" x2="227.67" y2="641.5" stroke="#666" stroke-width="0.8"/>
<line x1="246.13" y1="631.1" x2="246.13" y2="641.5" stroke="#666" stroke-width="0.8"/>
<line x1="264.6" y1="631.1" x2="264.6" y2="641.5" stroke="#666" stroke-width="0.8"/>
<line x1="283.07" y1="631.1" x2="283.07" y2="641.5" stroke="#666" stroke-width="0.8"/>
<line x1="301.53" y1="631.1" x2="301.53" y2="641.5" stroke="#666" stroke-width="0.8"/>
<text x="218.43" y="639" font-size="7" text-anchor="middle" fill="#222" style="stroke-width:0.12px">1.00</text>
<text x="236.9" y="639" font-size="7" text-anchor="middle" fill="#222" style="stroke-width:0.12px">0.67</text>
<text x="255.37" y="639" font-size="7" text-anchor="middle" fill="#222" style="stroke-width:0.12px">0.75</text>
<text x="273.83" y="639" font-size="7" text-anchor="middle" fill="#222" style="stroke-width:0.12px">0.45</text>
<text x="292.3" y="639" font-size="7" text-anchor="middle" fill="#222" style="stroke-width:0.12px">0.28</text>
<text x="310.77" y="639" font-size="7" text-anchor="middle" fill="#222" style="stroke-width:0.12px">0.37</text>
<rect x="209.2" y="660.3" width="110.8" height="10.4" fill="#fff" stroke="#8c8c8c" stroke-width="0.8"/>
<line x1="227.67" y1="660.3" x2="227.67" y2="670.7" stroke="#666" stroke-width="0.8"/>
<line x1="246.13" y1="660.3" x2="246.13" y2="670.7" stroke="#666" stroke-width="0.8"/>
<line x1="264.6" y1="660.3" x2="264.6" y2="670.7" stroke="#666" stroke-width="0.8"/>
<line x1="283.07" y1="660.3" x2="283.07" y2="670.7" stroke="#666" stroke-width="0.8"/>
<line x1="301.53" y1="660.3" x2="301.53" y2="670.7" stroke="#666" stroke-width="0.8"/>
<text x="218.43" y="668.2" font-size="7" text-anchor="middle" fill="#222" style="stroke-width:0.12px">1.00</text>
<text x="236.9" y="668.2" font-size="7" text-anchor="middle" fill="#222" style="stroke-width:0.12px">1.05</text>
<text x="255.37" y="668.2" font-size="7" text-anchor="middle" fill="#222" style="stroke-width:0.12px">1.07</text>
<text x="273.83" y="668.2" font-size="7" text-anchor="middle" fill="#222" style="stroke-width:0.12px">1.02</text>
<text x="292.3" y="668.2" font-size="7" text-anchor="middle" fill="#222" style="stroke-width:0.12px">0.88</text>
<text x="310.77" y="668.2" font-size="7" text-anchor="middle" fill="#222" style="stroke-width:0.12px">0.84</text>
<rect x="367.8" y="378.6" width="111.1" height="17.5" fill="#aaaaaa"/>
<rect x="367.8" y="408.05" width="111.1" height="17.5" fill="#bcbcbc"/>
<rect x="367.8" y="437.5" width="111.1" height="17.5" fill="#c0c0c0"/>
<rect x="367.8" y="466.95" width="111.1" height="17.5" fill="#bcbcbc"/>
<rect x="367.8" y="496.4" width="111.1" height="17.5" fill="#c2c2c2"/>
<rect x="367.8" y="525.85" width="111.1" height="17.5" fill="#c0c0c0"/>
<rect x="367.8" y="555.3" width="111.1" height="17.5" fill="#c0c0c0"/>
<rect x="367.8" y="584.75" width="111.1" height="17.5" fill="#bebebe"/>
<rect x="367.8" y="614.2" width="111.1" height="17.5" fill="#c0c0c0"/>
<rect x="367.8" y="643.65" width="111.1" height="17.5" fill="#bcbcbc"/>
<g filter="url(#blur)">
<line x1="369.8" y1="443.6" x2="384.52" y2="443.6" stroke="#101010" stroke-width="3" stroke-linecap="round" opacity="1"/>
<line x1="369.8" y1="502.3" x2="384.52" y2="502.3" stroke="#101010" stroke-width="3" stroke-linecap="round" opacity="1"/>
<line x1="369.8" y1="563.6" x2="384.52" y2="563.6" stroke="#4a4a4a" stroke-width="2.8" stroke-linecap="round" opacity="1"/>
<line x1="370.3" y1="620.3" x2="384.02" y2="620.3" stroke="#101010" stroke-width="3.8" stroke-linecap="round" opacity="1"/>
<line x1="388.32" y1="443.6" x2="403.04" y2="443.6" stroke="#101010" stroke-width="3" stroke-linecap="round" opacity="1"/>
<line x1="388.32" y1="502.3" x2="403.04" y2="502.3" stroke="#101010" stroke-width="3" stroke-linecap="round" opacity="1"/>
<line x1="388.72" y1="563.6" x2="402.64" y2="563.6" stroke="#4a4a4a" stroke-width="3.6" stroke-linecap="round" opacity="1"/>
<line x1="388.82" y1="620.3" x2="402.54" y2="620.3" stroke="#101010" stroke-width="3.8" stroke-linecap="round" opacity="1"/>
<line x1="406.84" y1="443.6" x2="421.56" y2="443.6" stroke="#101010" stroke-width="3" stroke-linecap="round" opacity="1"/>
<line x1="406.84" y1="502.3" x2="421.56" y2="502.3" stroke="#101010" stroke-width="3" stroke-linecap="round" opacity="1"/>
<line x1="407.24" y1="563.6" x2="421.16" y2="563.6" stroke="#4a4a4a" stroke-width="3.6" stroke-linecap="round" opacity="1"/>
<line x1="407.64" y1="620.3" x2="420.76" y2="620.3" stroke="#101010" stroke-width="4.4" stroke-linecap="round" opacity="1"/>
<line x1="425.36" y1="443.6" x2="440.08" y2="443.6" stroke="#101010" stroke-width="3" stroke-linecap="round" opacity="1"/>
<line x1="425.36" y1="502.3" x2="440.08" y2="502.3" stroke="#101010" stroke-width="3" stroke-linecap="round" opacity="1"/>
<line x1="425.76" y1="563.6" x2="439.68" y2="563.6" stroke="#4a4a4a" stroke-width="3.6" stroke-linecap="round" opacity="1"/>
<line x1="425.86" y1="620.3" x2="439.58" y2="620.3" stroke="#101010" stroke-width="3.8" stroke-linecap="round" opacity="1"/>
<line x1="443.88" y1="443.6" x2="458.6" y2="443.6" stroke="#101010" stroke-width="3" stroke-linecap="round" opacity="1"/>
<line x1="443.88" y1="502.3" x2="458.6" y2="502.3" stroke="#101010" stroke-width="3" stroke-linecap="round" opacity="1"/>
<line x1="444.28" y1="563.6" x2="458.2" y2="563.6" stroke="#4a4a4a" stroke-width="3.6" stroke-linecap="round" opacity="1"/>
<line x1="444.38" y1="620.3" x2="458.1" y2="620.3" stroke="#101010" stroke-width="3.8" stroke-linecap="round" opacity="1"/>
<line x1="462.4" y1="443.6" x2="477.12" y2="443.6" stroke="#101010" stroke-width="3" stroke-linecap="round" opacity="1"/>
<line x1="462.4" y1="502.3" x2="477.12" y2="502.3" stroke="#101010" stroke-width="3" stroke-linecap="round" opacity="1"/>
<line x1="462.8" y1="563.6" x2="476.72" y2="563.6" stroke="#4a4a4a" stroke-width="3.6" stroke-linecap="round" opacity="1"/>
<line x1="462.9" y1="620.3" x2="476.62" y2="620.3" stroke="#101010" stroke-width="3.8" stroke-linecap="round" opacity="1"/>
<path d="M369 649.4 L380 649.6 L386 649.2 L390 648.4 L405 648.3 L424 648.6 L444 648 L458 648.2 L467 649 L476 649.6 L478.2 650.4 L478.2 654.6 L470 655 L462 654.8 L445 654.6 L425 654.3 L405 654 L390 654 L386 652.6 L375 652.2 L369 652Z" fill="#050505"/>
<path d="M426 649 L426.8 645 Q429 643 431.8 644.6 L433 649Z" fill="#111"/>
<path d="M433 649 L434 646.5 L437 646.5 L437.5 649Z" fill="#555" opacity="0.6"/>
<path d="M444.5 649 L445.5 645.8 Q450 644.6 455.5 646 L457 649Z" fill="#222"/>
<path d="M458.5 649 L459.6 645.6 Q462.5 644.2 465 645.8 L466.5 649Z" fill="#1a1a1a"/>
<path d="M466.5 649 L467.5 647 L471 647 L471.5 649Z" fill="#555" opacity="0.6"/>
</g>
<rect x="367.8" y="395.5" width="111.1" height="1" fill="#6a6a6a"/>
<rect x="367.8" y="406.5" width="111.1" height="1" fill="#f2f2f2"/>
<rect x="367.8" y="396.3" width="111.1" height="10" fill="#fff" stroke="#707070" stroke-width="0.7"/>
<line x1="386.32" y1="396.3" x2="386.32" y2="406.3" stroke="#666" stroke-width="0.8"/>
<line x1="404.83" y1="396.3" x2="404.83" y2="406.3" stroke="#666" stroke-width="0.8"/>
<line x1="423.35" y1="396.3" x2="423.35" y2="406.3" stroke="#666" stroke-width="0.8"/>
<line x1="441.87" y1="396.3" x2="441.87" y2="406.3" stroke="#666" stroke-width="0.8"/>
<line x1="460.38" y1="396.3" x2="460.38" y2="406.3" stroke="#666" stroke-width="0.8"/>
<text x="377.06" y="403.9" font-size="7" text-anchor="middle" fill="#222" style="stroke-width:0.12px">N/A</text>
<text x="395.57" y="403.9" font-size="7" text-anchor="middle" fill="#222" style="stroke-width:0.12px">N/A</text>
<text x="414.09" y="403.9" font-size="7" text-anchor="middle" fill="#222" style="stroke-width:0.12px">N/A</text>
<text x="432.61" y="403.9" font-size="7" text-anchor="middle" fill="#222" style="stroke-width:0.12px">N/A</text>
<text x="451.12" y="403.9" font-size="7" text-anchor="middle" fill="#222" style="stroke-width:0.12px">N/A</text>
<text x="469.64" y="403.9" font-size="7" text-anchor="middle" fill="#222" style="stroke-width:0.12px">N/A</text>
<rect x="367.8" y="424.95" width="111.1" height="1" fill="#6a6a6a"/>
<rect x="367.8" y="435.95" width="111.1" height="1" fill="#f2f2f2"/>
<rect x="367.8" y="425.75" width="111.1" height="10" fill="#fff" stroke="#707070" stroke-width="0.7"/>
<line x1="386.32" y1="425.75" x2="386.32" y2="435.75" stroke="#666" stroke-width="0.8"/>
<line x1="404.83" y1="425.75" x2="404.83" y2="435.75" stroke="#666" stroke-width="0.8"/>
<line x1="423.35" y1="425.75" x2="423.35" y2="435.75" stroke="#666" stroke-width="0.8"/>
<line x1="441.87" y1="425.75" x2="441.87" y2="435.75" stroke="#666" stroke-width="0.8"/>
<line x1="460.38" y1="425.75" x2="460.38" y2="435.75" stroke="#666" stroke-width="0.8"/>
<text x="377.06" y="433.35" font-size="7" text-anchor="middle" fill="#222" style="stroke-width:0.12px">N/A</text>
<text x="395.57" y="433.35" font-size="7" text-anchor="middle" fill="#222" style="stroke-width:0.12px">N/A</text>
<text x="414.09" y="433.35" font-size="7" text-anchor="middle" fill="#222" style="stroke-width:0.12px">N/A</text>
<text x="432.61" y="433.35" font-size="7" text-anchor="middle" fill="#222" style="stroke-width:0.12px">N/A</text>
<text x="451.12" y="433.35" font-size="7" text-anchor="middle" fill="#222" style="stroke-width:0.12px">N/A</text>
<text x="469.64" y="433.35" font-size="7" text-anchor="middle" fill="#222" style="stroke-width:0.12px">N/A</text>
<rect x="367.8" y="454.4" width="111.1" height="1" fill="#6a6a6a"/>
<rect x="367.8" y="465.4" width="111.1" height="1" fill="#f2f2f2"/>
<rect x="367.8" y="455.2" width="111.1" height="10" fill="#fff" stroke="#707070" stroke-width="0.7"/>
<line x1="386.32" y1="455.2" x2="386.32" y2="465.2" stroke="#666" stroke-width="0.8"/>
<line x1="404.83" y1="455.2" x2="404.83" y2="465.2" stroke="#666" stroke-width="0.8"/>
<line x1="423.35" y1="455.2" x2="423.35" y2="465.2" stroke="#666" stroke-width="0.8"/>
<line x1="441.87" y1="455.2" x2="441.87" y2="465.2" stroke="#666" stroke-width="0.8"/>
<line x1="460.38" y1="455.2" x2="460.38" y2="465.2" stroke="#666" stroke-width="0.8"/>
<text x="377.06" y="462.8" font-size="7" text-anchor="middle" fill="#222" style="stroke-width:0.12px">1</text>
<text x="395.57" y="462.8" font-size="7" text-anchor="middle" fill="#222" style="stroke-width:0.12px">0.44</text>
<text x="414.09" y="462.8" font-size="7" text-anchor="middle" fill="#222" style="stroke-width:0.12px">0.95</text>
<text x="432.61" y="462.8" font-size="7" text-anchor="middle" fill="#222" style="stroke-width:0.12px">0.42</text>
<text x="451.12" y="462.8" font-size="7" text-anchor="middle" fill="#222" style="stroke-width:0.12px">0.49</text>
<text x="469.64" y="462.8" font-size="7" text-anchor="middle" fill="#222" style="stroke-width:0.12px">0.39</text>
<rect x="367.8" y="483.85" width="111.1" height="1" fill="#6a6a6a"/>
<rect x="367.8" y="494.85" width="111.1" height="1" fill="#f2f2f2"/>
<rect x="367.8" y="484.65" width="111.1" height="10" fill="#fff" stroke="#707070" stroke-width="0.7"/>
<line x1="386.32" y1="484.65" x2="386.32" y2="494.65" stroke="#666" stroke-width="0.8"/>
<line x1="404.83" y1="484.65" x2="404.83" y2="494.65" stroke="#666" stroke-width="0.8"/>
<line x1="423.35" y1="484.65" x2="423.35" y2="494.65" stroke="#666" stroke-width="0.8"/>
<line x1="441.87" y1="484.65" x2="441.87" y2="494.65" stroke="#666" stroke-width="0.8"/>
<line x1="460.38" y1="484.65" x2="460.38" y2="494.65" stroke="#666" stroke-width="0.8"/>
<text x="377.06" y="492.25" font-size="7" text-anchor="middle" fill="#222" style="stroke-width:0.12px">N/A</text>
<text x="395.57" y="492.25" font-size="7" text-anchor="middle" fill="#222" style="stroke-width:0.12px">N/A</text>
<text x="414.09" y="492.25" font-size="7" text-anchor="middle" fill="#222" style="stroke-width:0.12px">N/A</text>
<text x="432.61" y="492.25" font-size="7" text-anchor="middle" fill="#222" style="stroke-width:0.12px">N/A</text>
<text x="451.12" y="492.25" font-size="7" text-anchor="middle" fill="#222" style="stroke-width:0.12px">N/A</text>
<text x="469.64" y="492.25" font-size="7" text-anchor="middle" fill="#222" style="stroke-width:0.12px">N/A</text>
<rect x="367.8" y="513.3" width="111.1" height="1" fill="#6a6a6a"/>
<rect x="367.8" y="524.3" width="111.1" height="1" fill="#f2f2f2"/>
<rect x="367.8" y="514.1" width="111.1" height="10" fill="#fff" stroke="#707070" stroke-width="0.7"/>
<line x1="386.32" y1="514.1" x2="386.32" y2="524.1" stroke="#666" stroke-width="0.8"/>
<line x1="404.83" y1="514.1" x2="404.83" y2="524.1" stroke="#666" stroke-width="0.8"/>
<line x1="423.35" y1="514.1" x2="423.35" y2="524.1" stroke="#666" stroke-width="0.8"/>
<line x1="441.87" y1="514.1" x2="441.87" y2="524.1" stroke="#666" stroke-width="0.8"/>
<line x1="460.38" y1="514.1" x2="460.38" y2="524.1" stroke="#666" stroke-width="0.8"/>
<text x="377.06" y="521.7" font-size="7" text-anchor="middle" fill="#222" style="stroke-width:0.12px">1</text>
<text x="395.57" y="521.7" font-size="7" text-anchor="middle" fill="#222" style="stroke-width:0.12px">0.41</text>
<text x="414.09" y="521.7" font-size="7" text-anchor="middle" fill="#222" style="stroke-width:0.12px">0.43</text>
<text x="432.61" y="521.7" font-size="7" text-anchor="middle" fill="#222" style="stroke-width:0.12px">0.41</text>
<text x="451.12" y="521.7" font-size="7" text-anchor="middle" fill="#222" style="stroke-width:0.12px">0.47</text>
<text x="469.64" y="521.7" font-size="7" text-anchor="middle" fill="#222" style="stroke-width:0.12px">0.46</text>
<rect x="367.8" y="542.75" width="111.1" height="1" fill="#6a6a6a"/>
<rect x="367.8" y="553.75" width="111.1" height="1" fill="#f2f2f2"/>
<rect x="367.8" y="543.55" width="111.1" height="10" fill="#fff" stroke="#707070" stroke-width="0.7"/>
<line x1="386.32" y1="543.55" x2="386.32" y2="553.55" stroke="#666" stroke-width="0.8"/>
<line x1="404.83" y1="543.55" x2="404.83" y2="553.55" stroke="#666" stroke-width="0.8"/>
<line x1="423.35" y1="543.55" x2="423.35" y2="553.55" stroke="#666" stroke-width="0.8"/>
<line x1="441.87" y1="543.55" x2="441.87" y2="553.55" stroke="#666" stroke-width="0.8"/>
<line x1="460.38" y1="543.55" x2="460.38" y2="553.55" stroke="#666" stroke-width="0.8"/>
<text x="377.06" y="551.15" font-size="7" text-anchor="middle" fill="#222" style="stroke-width:0.12px">N/A</text>
<text x="395.57" y="551.15" font-size="7" text-anchor="middle" fill="#222" style="stroke-width:0.12px">N/A</text>
<text x="414.09" y="551.15" font-size="7" text-anchor="middle" fill="#222" style="stroke-width:0.12px">N/A</text>
<text x="432.61" y="551.15" font-size="7" text-anchor="middle" fill="#222" style="stroke-width:0.12px">N/A</text>
<text x="451.12" y="551.15" font-size="7" text-anchor="middle" fill="#222" style="stroke-width:0.12px">N/A</text>
<text x="469.64" y="551.15" font-size="7" text-anchor="middle" fill="#222" style="stroke-width:0.12px">N/A</text>
<rect x="367.8" y="572.2" width="111.1" height="1" fill="#6a6a6a"/>
<rect x="367.8" y="583.2" width="111.1" height="1" fill="#f2f2f2"/>
<rect x="367.8" y="573" width="111.1" height="10" fill="#fff" stroke="#707070" stroke-width="0.7"/>
<line x1="386.32" y1="573" x2="386.32" y2="583" stroke="#666" stroke-width="0.8"/>
<line x1="404.83" y1="573" x2="404.83" y2="583" stroke="#666" stroke-width="0.8"/>
<line x1="423.35" y1="573" x2="423.35" y2="583" stroke="#666" stroke-width="0.8"/>
<line x1="441.87" y1="573" x2="441.87" y2="583" stroke="#666" stroke-width="0.8"/>
<line x1="460.38" y1="573" x2="460.38" y2="583" stroke="#666" stroke-width="0.8"/>
<text x="377.06" y="580.6" font-size="7" text-anchor="middle" fill="#222" style="stroke-width:0.12px">1</text>
<text x="395.57" y="580.6" font-size="7" text-anchor="middle" fill="#222" style="stroke-width:0.12px">0.44</text>
<text x="414.09" y="580.6" font-size="7" text-anchor="middle" fill="#222" style="stroke-width:0.12px">0.95</text>
<text x="432.61" y="580.6" font-size="7" text-anchor="middle" fill="#222" style="stroke-width:0.12px">0.42</text>
<text x="451.12" y="580.6" font-size="7" text-anchor="middle" fill="#222" style="stroke-width:0.12px">0.49</text>
<text x="469.64" y="580.6" font-size="7" text-anchor="middle" fill="#222" style="stroke-width:0.12px">0.39</text>
<rect x="367.8" y="601.65" width="111.1" height="1" fill="#6a6a6a"/>
<rect x="367.8" y="612.65" width="111.1" height="1" fill="#f2f2f2"/>
<rect x="367.8" y="602.45" width="111.1" height="10" fill="#fff" stroke="#707070" stroke-width="0.7"/>
<line x1="386.32" y1="602.45" x2="386.32" y2="612.45" stroke="#666" stroke-width="0.8"/>
<line x1="404.83" y1="602.45" x2="404.83" y2="612.45" stroke="#666" stroke-width="0.8"/>
<line x1="423.35" y1="602.45" x2="423.35" y2="612.45" stroke="#666" stroke-width="0.8"/>
<line x1="441.87" y1="602.45" x2="441.87" y2="612.45" stroke="#666" stroke-width="0.8"/>
<line x1="460.38" y1="602.45" x2="460.38" y2="612.45" stroke="#666" stroke-width="0.8"/>
<text x="377.06" y="610.05" font-size="7" text-anchor="middle" fill="#222" style="stroke-width:0.12px">N/A</text>
<text x="395.57" y="610.05" font-size="7" text-anchor="middle" fill="#222" style="stroke-width:0.12px">N/A</text>
<text x="414.09" y="610.05" font-size="7" text-anchor="middle" fill="#222" style="stroke-width:0.12px">N/A</text>
<text x="432.61" y="610.05" font-size="7" text-anchor="middle" fill="#222" style="stroke-width:0.12px">N/A</text>
<text x="451.12" y="610.05" font-size="7" text-anchor="middle" fill="#222" style="stroke-width:0.12px">N/A</text>
<text x="469.64" y="610.05" font-size="7" text-anchor="middle" fill="#222" style="stroke-width:0.12px">N/A</text>
<rect x="367.8" y="631.1" width="111.1" height="1" fill="#6a6a6a"/>
<rect x="367.8" y="642.1" width="111.1" height="1" fill="#f2f2f2"/>
<rect x="367.8" y="631.9" width="111.1" height="10" fill="#fff" stroke="#707070" stroke-width="0.7"/>
<line x1="386.32" y1="631.9" x2="386.32" y2="641.9" stroke="#666" stroke-width="0.8"/>
<line x1="404.83" y1="631.9" x2="404.83" y2="641.9" stroke="#666" stroke-width="0.8"/>
<line x1="423.35" y1="631.9" x2="423.35" y2="641.9" stroke="#666" stroke-width="0.8"/>
<line x1="441.87" y1="631.9" x2="441.87" y2="641.9" stroke="#666" stroke-width="0.8"/>
<line x1="460.38" y1="631.9" x2="460.38" y2="641.9" stroke="#666" stroke-width="0.8"/>
<text x="377.06" y="639.5" font-size="7" text-anchor="middle" fill="#222" style="stroke-width:0.12px">1</text>
<text x="395.57" y="639.5" font-size="7" text-anchor="middle" fill="#222" style="stroke-width:0.12px">0.38</text>
<text x="414.09" y="639.5" font-size="7" text-anchor="middle" fill="#222" style="stroke-width:0.12px">0.45</text>
<text x="432.61" y="639.5" font-size="7" text-anchor="middle" fill="#222" style="stroke-width:0.12px">0.37</text>
<text x="451.12" y="639.5" font-size="7" text-anchor="middle" fill="#222" style="stroke-width:0.12px">0.42</text>
<text x="469.64" y="639.5" font-size="7" text-anchor="middle" fill="#222" style="stroke-width:0.12px">0.38</text>
<rect x="367.8" y="660.55" width="111.1" height="1" fill="#6a6a6a"/>
<rect x="367.8" y="671.55" width="111.1" height="1" fill="#f2f2f2"/>
<rect x="367.8" y="661.35" width="111.1" height="10" fill="#fff" stroke="#707070" stroke-width="0.7"/>
<line x1="386.32" y1="661.35" x2="386.32" y2="671.35" stroke="#666" stroke-width="0.8"/>
<line x1="404.83" y1="661.35" x2="404.83" y2="671.35" stroke="#666" stroke-width="0.8"/>
<line x1="423.35" y1="661.35" x2="423.35" y2="671.35" stroke="#666" stroke-width="0.8"/>
<line x1="441.87" y1="661.35" x2="441.87" y2="671.35" stroke="#666" stroke-width="0.8"/>
<line x1="460.38" y1="661.35" x2="460.38" y2="671.35" stroke="#666" stroke-width="0.8"/>
<text x="377.06" y="668.95" font-size="7" text-anchor="middle" fill="#222" style="stroke-width:0.12px">1</text>
<text x="395.57" y="668.95" font-size="7" text-anchor="middle" fill="#222" style="stroke-width:0.12px">1.24</text>
<text x="414.09" y="668.95" font-size="7" text-anchor="middle" fill="#222" style="stroke-width:0.12px">1.19</text>
<text x="432.61" y="668.95" font-size="7" text-anchor="middle" fill="#222" style="stroke-width:0.12px">1.2</text>
<text x="451.12" y="668.95" font-size="7" text-anchor="middle" fill="#222" style="stroke-width:0.12px">1.14</text>
<text x="469.64" y="668.95" font-size="7" text-anchor="middle" fill="#222" style="stroke-width:0.12px">1.14</text>
<text x="62.33" y="377.6" font-size="7.4" text-anchor="start" fill="#222" transform="rotate(-90 62.33 377.6)">DMSO</text>
<text x="80.8" y="377.6" font-size="7.4" text-anchor="start" fill="#222" transform="rotate(-90 80.8 377.6)">1 nM</text>
<text x="99.27" y="377.6" font-size="7.4" text-anchor="start" fill="#222" transform="rotate(-90 99.27 377.6)">5 nM</text>
<text x="117.73" y="377.6" font-size="7.4" text-anchor="start" fill="#222" transform="rotate(-90 117.73 377.6)">10 nM</text>
<text x="136.2" y="377.6" font-size="7.4" text-anchor="start" fill="#222" transform="rotate(-90 136.2 377.6)">100 nM</text>
<text x="154.67" y="377.6" font-size="7.4" text-anchor="start" fill="#222" transform="rotate(-90 154.67 377.6)">1 µM</text>
<line x1="78.2" y1="347.2" x2="152.2" y2="347.2" stroke="#222" stroke-width="1.1"/>
<text x="115.3" y="343.9" font-size="9.6" text-anchor="middle" font-weight="bold" fill="#222" textLength="12" lengthAdjust="spacingAndGlyphs">VEN</text>
<text x="221.03" y="377.4" font-size="7.4" text-anchor="start" fill="#222" transform="rotate(-90 221.03 377.4)">DMSO</text>
<text x="239.5" y="377.4" font-size="7.4" text-anchor="start" fill="#222" transform="rotate(-90 239.5 377.4)">1 nM</text>
<text x="257.97" y="377.4" font-size="7.4" text-anchor="start" fill="#222" transform="rotate(-90 257.97 377.4)">5 nM</text>
<text x="276.43" y="377.4" font-size="7.4" text-anchor="start" fill="#222" transform="rotate(-90 276.43 377.4)">10 nM</text>
<text x="294.9" y="377.4" font-size="7.4" text-anchor="start" fill="#222" transform="rotate(-90 294.9 377.4)">100 nM</text>
<text x="313.37" y="377.4" font-size="7.4" text-anchor="start" fill="#222" transform="rotate(-90 313.37 377.4)">1 µM</text>
<line x1="239.6" y1="347.2" x2="313.9" y2="347.2" stroke="#222" stroke-width="1.1"/>
<text x="276.5" y="343.9" font-size="9.6" text-anchor="middle" font-weight="bold" fill="#222" textLength="12" lengthAdjust="spacingAndGlyphs">VEN</text>
<text x="379.66" y="377" font-size="7.4" text-anchor="start" fill="#222" transform="rotate(-90 379.66 377)">DMSO</text>
<text x="398.18" y="377" font-size="7.4" text-anchor="start" fill="#222" transform="rotate(-90 398.18 377)">1 nM</text>
<text x="416.69" y="377" font-size="7.4" text-anchor="start" fill="#222" transform="rotate(-90 416.69 377)">5 nM</text>
<text x="435.21" y="377" font-size="7.4" text-anchor="start" fill="#222" transform="rotate(-90 435.21 377)">10 nM</text>
<text x="453.73" y="377" font-size="7.4" text-anchor="start" fill="#222" transform="rotate(-90 453.73 377)">100 nM</text>
<text x="472.24" y="377" font-size="7.4" text-anchor="start" fill="#222" transform="rotate(-90 472.24 377)">1 µM</text>
<line x1="396.6" y1="347.2" x2="470.9" y2="347.2" stroke="#222" stroke-width="1.1"/>
<text x="433.5" y="343.9" font-size="9.6" text-anchor="middle" font-weight="bold" fill="#222" textLength="12" lengthAdjust="spacingAndGlyphs">VEN</text>
<text x="45.6" y="393" font-size="7.4" text-anchor="end" fill="#222" style="stroke-width:0.1px">Bcl2</text>
<text x="45.6" y="420.9" font-size="7.4" text-anchor="end" fill="#222" style="stroke-width:0.1px">cCaspase3</text>
<text x="45.6" y="449.6" font-size="7.4" text-anchor="end" fill="#222" style="stroke-width:0.1px">Caspase3</text>
<text x="45.6" y="477.9" font-size="7.4" text-anchor="end" fill="#222" style="stroke-width:0.1px">cPARP</text>
<text x="45.6" y="508.2" font-size="7.4" text-anchor="end" fill="#222" style="stroke-width:0.1px">PARP</text>
<text x="45.6" y="538" font-size="7.4" text-anchor="end" fill="#222" style="stroke-width:0.1px">cCaspase7</text>
<text x="45.6" y="566.9" font-size="7.4" text-anchor="end" fill="#222" style="stroke-width:0.1px">Caspase7</text>
<text x="45.6" y="595.7" font-size="7.4" text-anchor="end" fill="#222" style="stroke-width:0.1px">cCaspase9</text>
<text x="45.6" y="625.3" font-size="7.4" text-anchor="end" fill="#222" style="stroke-width:0.1px">Caspase9</text>
<text x="45.6" y="653.5" font-size="7.4" text-anchor="end" fill="#222" style="stroke-width:0.1px">Tubulin</text>
<path d="M50.6 397 L52.6 397 L50.6 399Z" fill="#1a9a3a"/>
</svg>
</body></html>
